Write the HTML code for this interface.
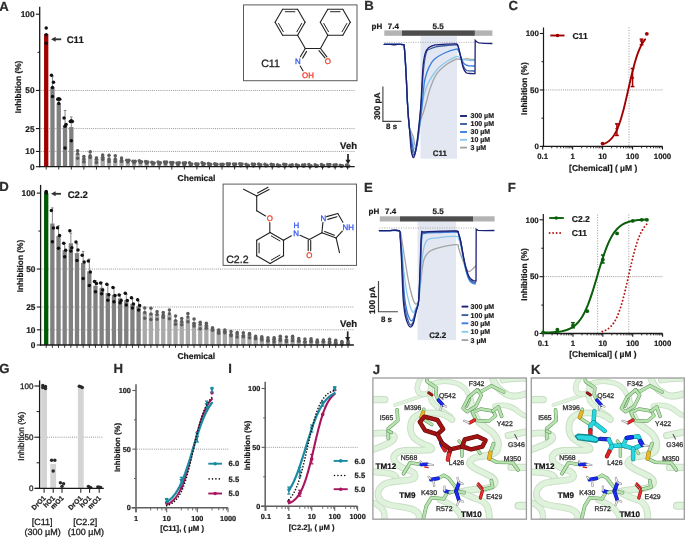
<!DOCTYPE html>
<html><head><meta charset="utf-8"><style>
html,body{margin:0;padding:0;background:#fff;}
body{width:685px;height:537px;overflow:hidden;}
svg{display:block;font-family:"Liberation Sans", sans-serif;will-change:transform;text-rendering:geometricPrecision;}
</style></head><body>
<svg width="685" height="537" viewBox="0 0 685 537">
<rect width="685" height="537" fill="#fff"/>
<defs><clipPath id="cj"><rect x="373.4" y="378.5" width="152.6" height="140.2"/></clipPath><clipPath id="ck"><rect x="531.8" y="378.5" width="152.0" height="140.2"/></clipPath></defs>
<text x="372.7" y="373.6" font-size="13.2" font-weight="bold" text-anchor="start" fill="#2b2b2b" stroke="#2b2b2b" stroke-width="0.2">J</text>
<text x="531.1" y="373.6" font-size="13.2" font-weight="bold" text-anchor="start" fill="#2b2b2b" stroke="#2b2b2b" stroke-width="0.2">K</text>
<g clip-path="url(#cj)">
<g id="env">
<path d="M372 399.6 L384.8 399.6" fill="none" stroke="#c8dfc4" stroke-width="7.4" stroke-linecap="round" stroke-linejoin="round"/>
<path d="M372 399.6 L384.8 399.6" fill="none" stroke="#dff2db" stroke-width="5.33" stroke-linecap="round" stroke-linejoin="round"/>
<path d="M395 405 L427 394.2" fill="none" stroke="#c8dfc4" stroke-width="3.8" stroke-linecap="round" stroke-linejoin="round"/>
<path d="M395 405 L427 394.2" fill="none" stroke="#dff2db" stroke-width="2.74" stroke-linecap="round" stroke-linejoin="round"/>
<path d="M422.5 376 C418.5 381 416.5 387 417.8 391 C419.5 394.5 424 394.8 428 393.5" fill="none" stroke="#c8dfc4" stroke-width="5.6" stroke-linecap="round" stroke-linejoin="round"/>
<path d="M422.5 376 C418.5 381 416.5 387 417.8 391 C419.5 394.5 424 394.8 428 393.5" fill="none" stroke="#dff2db" stroke-width="4.03" stroke-linecap="round" stroke-linejoin="round"/>
<path d="M430.5 384.5 C437 381.5 447 380.5 456 383 C462 385 466 389 468 393.5" fill="none" stroke="#c8dfc4" stroke-width="5.4" stroke-linecap="round" stroke-linejoin="round"/>
<path d="M430.5 384.5 C437 381.5 447 380.5 456 383 C462 385 466 389 468 393.5" fill="none" stroke="#dff2db" stroke-width="3.89" stroke-linecap="round" stroke-linejoin="round"/>
<path d="M431.5 385 C429.5 390 429.5 397 431.5 401 C434.5 406 442 411 450.5 416.5" fill="none" stroke="#c8dfc4" stroke-width="5.6" stroke-linecap="round" stroke-linejoin="round"/>
<path d="M431.5 385 C429.5 390 429.5 397 431.5 401 C434.5 406 442 411 450.5 416.5" fill="none" stroke="#dff2db" stroke-width="4.03" stroke-linecap="round" stroke-linejoin="round"/>
<path d="M492 376 C493.5 384 500 391 508 395 C514 397.5 520 396 528 393" fill="none" stroke="#c8dfc4" stroke-width="7.2" stroke-linecap="round" stroke-linejoin="round"/>
<path d="M492 376 C493.5 384 500 391 508 395 C514 397.5 520 396 528 393" fill="none" stroke="#dff2db" stroke-width="5.18" stroke-linecap="round" stroke-linejoin="round"/>
<path d="M503 380 C510 378.5 518 378 528 378.5" fill="none" stroke="#c8dfc4" stroke-width="6.8" stroke-linecap="round" stroke-linejoin="round"/>
<path d="M503 380 C510 378.5 518 378 528 378.5" fill="none" stroke="#dff2db" stroke-width="4.9" stroke-linecap="round" stroke-linejoin="round"/>
<path d="M494.9 406.3 C503 404 512 406 518.8 412 C522 415 525 416 528 416" fill="none" stroke="#c8dfc4" stroke-width="5.6" stroke-linecap="round" stroke-linejoin="round"/>
<path d="M494.9 406.3 C503 404 512 406 518.8 412 C522 415 525 416 528 416" fill="none" stroke="#dff2db" stroke-width="4.03" stroke-linecap="round" stroke-linejoin="round"/>
<path d="M470 398 C472 408 474 416 479 422.2 C483 426 488 429 492 432 C497 437 500 444 497 451 C494 455 484 456 477 457 C470 459 468 463 471 465.5 C474 468.5 480 471 486 474 C492 476.5 496 479 494.9 483.4 C493 487 488 488.5 481.6 489 C474 489.5 466 490 462 491.5" fill="none" stroke="#c8dfc4" stroke-width="7" stroke-linecap="round" stroke-linejoin="round"/>
<path d="M470 398 C472 408 474 416 479 422.2 C483 426 488 429 492 432 C497 437 500 444 497 451 C494 455 484 456 477 457 C470 459 468 463 471 465.5 C474 468.5 480 471 486 474 C492 476.5 496 479 494.9 483.4 C493 487 488 488.5 481.6 489 C474 489.5 466 490 462 491.5" fill="none" stroke="#dff2db" stroke-width="5.04" stroke-linecap="round" stroke-linejoin="round"/>
<path d="M462 492 C466 495 470 496.5 474 498 C481 500 486 503 487.5 507 C489 511 489.5 516 489.6 521" fill="none" stroke="#c8dfc4" stroke-width="7" stroke-linecap="round" stroke-linejoin="round"/>
<path d="M462 492 C466 495 470 496.5 474 498 C481 500 486 503 487.5 507 C489 511 489.5 516 489.6 521" fill="none" stroke="#dff2db" stroke-width="5.04" stroke-linecap="round" stroke-linejoin="round"/>
<path d="M508.2 435.5 L528 431.5" fill="none" stroke="#c8dfc4" stroke-width="7.2" stroke-linecap="round" stroke-linejoin="round"/>
<path d="M508.2 435.5 L528 431.5" fill="none" stroke="#dff2db" stroke-width="5.18" stroke-linecap="round" stroke-linejoin="round"/>
<path d="M510.9 467.4 L528 467.4" fill="none" stroke="#c8dfc4" stroke-width="7.2" stroke-linecap="round" stroke-linejoin="round"/>
<path d="M510.9 467.4 L528 467.4" fill="none" stroke="#dff2db" stroke-width="5.18" stroke-linecap="round" stroke-linejoin="round"/>
<path d="M518.5 505.8 L529 505.8" fill="none" stroke="#c8dfc4" stroke-width="8" stroke-linecap="round" stroke-linejoin="round"/>
<path d="M518.5 505.8 L529 505.8" fill="none" stroke="#dff2db" stroke-width="5.76" stroke-linecap="round" stroke-linejoin="round"/>
<path d="M371 434 C381 432 391 433 394 436 C396 440 388 444 380 447 L371 450.5" fill="none" stroke="#c8dfc4" stroke-width="6.8" stroke-linecap="round" stroke-linejoin="round"/>
<path d="M371 434 C381 432 391 433 394 436 C396 440 388 444 380 447 L371 450.5" fill="none" stroke="#dff2db" stroke-width="4.9" stroke-linecap="round" stroke-linejoin="round"/>
<path d="M371 471.7 C380 472 390 473 394 475 C398 478 396 481 392 482" fill="none" stroke="#c8dfc4" stroke-width="6.8" stroke-linecap="round" stroke-linejoin="round"/>
<path d="M371 471.7 C380 472 390 473 394 475 C398 478 396 481 392 482" fill="none" stroke="#dff2db" stroke-width="4.9" stroke-linecap="round" stroke-linejoin="round"/>
<path d="M371 502 C376 503 380 506 383 510 C385 514 385 517 384 521" fill="none" stroke="#c8dfc4" stroke-width="6.4" stroke-linecap="round" stroke-linejoin="round"/>
<path d="M371 502 C376 503 380 506 383 510 C385 514 385 517 384 521" fill="none" stroke="#dff2db" stroke-width="4.61" stroke-linecap="round" stroke-linejoin="round"/>
<path d="M452 419.5 C448 416.5 444 414 438.8 413.4 C432 412.8 426 412.8 422.9 413.4 C418 414 414 416.5 411.8 420.8 C410 425 410 430 412 435 C414.5 440 420 443 428.5 446 C432 447.5 433 449.5 430 450 L405 450.5 C397 451 392.5 455 394 460 C396 466 405 469 411 471 C416 473.5 417 478 411 479.5 C404 481 396 481 389 482.5 C382 484 378 489 378 494 C378 500 382 503 390 505 C398 507 408 507 414 510 C420 513 420 517 418 521" fill="none" stroke="#c8dfc4" stroke-width="6.8" stroke-linecap="round" stroke-linejoin="round"/>
<path d="M452 419.5 C448 416.5 444 414 438.8 413.4 C432 412.8 426 412.8 422.9 413.4 C418 414 414 416.5 411.8 420.8 C410 425 410 430 412 435 C414.5 440 420 443 428.5 446 C432 447.5 433 449.5 430 450 L405 450.5 C397 451 392.5 455 394 460 C396 466 405 469 411 471 C416 473.5 417 478 411 479.5 C404 481 396 481 389 482.5 C382 484 378 489 378 494 C378 500 382 503 390 505 C398 507 408 507 414 510 C420 513 420 517 418 521" fill="none" stroke="#dff2db" stroke-width="4.9" stroke-linecap="round" stroke-linejoin="round"/>
<path d="M440 500 C446 502 452 505 456 509 C460 513 462 517 462 521" fill="none" stroke="#c8dfc4" stroke-width="6.4" stroke-linecap="round" stroke-linejoin="round"/>
<path d="M440 500 C446 502 452 505 456 509 C460 513 462 517 462 521" fill="none" stroke="#dff2db" stroke-width="4.61" stroke-linecap="round" stroke-linejoin="round"/>
<path d="M397.1 409.8 L397.8 420.5 L388.3 428.6 L388.3 438.6" fill="none" stroke="#5f905a" stroke-width="3.6" stroke-linecap="round" stroke-linejoin="round"/>
<path d="M397.1 409.8 L397.8 420.5 L388.3 428.6 L388.3 438.6" fill="none" stroke="#b6e3ae" stroke-width="2.6" stroke-linecap="round" stroke-linejoin="round"/>
<path d="M388.3 431 L391.5 432.5" fill="none" stroke="#5f905a" stroke-width="3.2" stroke-linecap="round" stroke-linejoin="round"/>
<path d="M388.3 431 L391.5 432.5" fill="none" stroke="#b6e3ae" stroke-width="2.2" stroke-linecap="round" stroke-linejoin="round"/>
<line x1="428.8" y1="392.8" x2="432" y2="394.9" stroke="#601010" stroke-width="3" stroke-linecap="round"/>
<line x1="428.8" y1="392.8" x2="432" y2="394.9" stroke="#a21818" stroke-width="2" stroke-linecap="round"/>
<path d="M426.7 377.5 L427.1 381.4 L436.4 387.7 L435.8 394.8 L438.5 400.1" fill="none" stroke="#5f905a" stroke-width="3.6" stroke-linecap="round" stroke-linejoin="round"/>
<path d="M426.7 377.5 L427.1 381.4 L436.4 387.7 L435.8 394.8 L438.5 400.1" fill="none" stroke="#b6e3ae" stroke-width="2.6" stroke-linecap="round" stroke-linejoin="round"/>
<line x1="438.5" y1="400.1" x2="442.8" y2="405" stroke="#0a1290" stroke-width="3.6" stroke-linecap="round"/>
<line x1="438.5" y1="400.1" x2="442.8" y2="405" stroke="#1a2af0" stroke-width="2.6" stroke-linecap="round"/>
<line x1="443.5" y1="405.5" x2="446" y2="406.6" stroke="#888" stroke-width="2.2" stroke-linecap="round"/>
<line x1="443.5" y1="405.5" x2="446" y2="406.6" stroke="#f0f0f0" stroke-width="1.2" stroke-linecap="round"/>
<line x1="441.2" y1="406.2" x2="440.6" y2="409.6" stroke="#888" stroke-width="2.2" stroke-linecap="round"/>
<line x1="441.2" y1="406.2" x2="440.6" y2="409.6" stroke="#f0f0f0" stroke-width="1.2" stroke-linecap="round"/>
<path d="M423.8 409.2 L423.4 411.8" fill="none" stroke="#5f905a" stroke-width="3.4" stroke-linecap="round" stroke-linejoin="round"/>
<path d="M423.8 409.2 L423.4 411.8" fill="none" stroke="#b6e3ae" stroke-width="2.4" stroke-linecap="round" stroke-linejoin="round"/>
<path d="M421.6 418 L431.8 424.6" fill="none" stroke="#5f905a" stroke-width="3.4" stroke-linecap="round" stroke-linejoin="round"/>
<path d="M421.6 418 L431.8 424.6" fill="none" stroke="#b6e3ae" stroke-width="2.4" stroke-linecap="round" stroke-linejoin="round"/>
<path d="M423.2 412.3 L421.2 417.4" fill="none" stroke="#a07a10" stroke-width="4" stroke-linecap="round" stroke-linejoin="round"/>
<path d="M423.2 412.3 L421.2 417.4" fill="none" stroke="#e8b828" stroke-width="3" stroke-linecap="round" stroke-linejoin="round"/>
<path d="M503.7 392 L491.5 385.8 L480.6 392 L477.2 389.9" fill="none" stroke="#5f905a" stroke-width="3.6" stroke-linecap="round" stroke-linejoin="round"/>
<path d="M503.7 392 L491.5 385.8 L480.6 392 L477.2 389.9" fill="none" stroke="#b6e3ae" stroke-width="2.6" stroke-linecap="round" stroke-linejoin="round"/>
<path d="M477.2 389.9 L468.4 397.4 L463 408.3 L467 411.7 L475.9 406.2 L481.3 395.3 L477.2 389.9" fill="none" stroke="#5f905a" stroke-width="3.4" stroke-linecap="round" stroke-linejoin="round"/>
<path d="M477.2 389.9 L468.4 397.4 L463 408.3 L467 411.7 L475.9 406.2 L481.3 395.3 L477.2 389.9" fill="none" stroke="#b6e3ae" stroke-width="2.4" stroke-linecap="round" stroke-linejoin="round"/>
<path d="M470.2 399 L466.6 407" fill="none" stroke="#5f905a" stroke-width="2.2" stroke-linecap="round" stroke-linejoin="round"/>
<path d="M470.2 399 L466.6 407" fill="none" stroke="#b6e3ae" stroke-width="1.2" stroke-linecap="round" stroke-linejoin="round"/>
<path d="M472.5 412.3 L480.6 409 L492.8 411 L495.6 415.7 L488.8 421.2 L476.5 420.5 L472.5 412.3" fill="none" stroke="#5f905a" stroke-width="3.4" stroke-linecap="round" stroke-linejoin="round"/>
<path d="M472.5 412.3 L480.6 409 L492.8 411 L495.6 415.7 L488.8 421.2 L476.5 420.5 L472.5 412.3" fill="none" stroke="#b6e3ae" stroke-width="2.4" stroke-linecap="round" stroke-linejoin="round"/>
<path d="M492.8 411 L498.3 406.9 L501.7 416.4" fill="none" stroke="#5f905a" stroke-width="3.6" stroke-linecap="round" stroke-linejoin="round"/>
<path d="M492.8 411 L498.3 406.9 L501.7 416.4" fill="none" stroke="#b6e3ae" stroke-width="2.6" stroke-linecap="round" stroke-linejoin="round"/>
<line x1="474.6" y1="420" x2="469.8" y2="422.8" stroke="#901010" stroke-width="3.4" stroke-linecap="round"/>
<line x1="474.6" y1="420" x2="469.8" y2="422.8" stroke="#e82828" stroke-width="2.4" stroke-linecap="round"/>
<line x1="468.8" y1="422.6" x2="464" y2="420.8" stroke="#888" stroke-width="2.2" stroke-linecap="round"/>
<line x1="468.8" y1="422.6" x2="464" y2="420.8" stroke="#f0f0f0" stroke-width="1.2" stroke-linecap="round"/>
<line x1="514.6" y1="434.1" x2="517.3" y2="439.5" stroke="#222" stroke-width="0.9"/>
<path d="M493.6 443.5 L490.2 452.6" fill="none" stroke="#5f905a" stroke-width="3.6" stroke-linecap="round" stroke-linejoin="round"/>
<path d="M493.6 443.5 L490.2 452.6" fill="none" stroke="#b6e3ae" stroke-width="2.6" stroke-linecap="round" stroke-linejoin="round"/>
<path d="M489.6 458.6 L496.5 462.2 L512.6 462.6 L518 470" fill="none" stroke="#5f905a" stroke-width="3.6" stroke-linecap="round" stroke-linejoin="round"/>
<path d="M489.6 458.6 L496.5 462.2 L512.6 462.6 L518 470" fill="none" stroke="#b6e3ae" stroke-width="2.6" stroke-linecap="round" stroke-linejoin="round"/>
<path d="M490.4 452.8 L489.2 458.6" fill="none" stroke="#a07a10" stroke-width="4.4" stroke-linecap="round" stroke-linejoin="round"/>
<path d="M490.4 452.8 L489.2 458.6" fill="none" stroke="#e8b828" stroke-width="3.4" stroke-linecap="round" stroke-linejoin="round"/>
<path d="M491.3 480.5 L492.7 487 L483.5 489.6" fill="none" stroke="#5f905a" stroke-width="3.6" stroke-linecap="round" stroke-linejoin="round"/>
<path d="M491.3 480.5 L492.7 487 L483.5 489.6" fill="none" stroke="#b6e3ae" stroke-width="2.6" stroke-linecap="round" stroke-linejoin="round"/>
<line x1="482.4" y1="488.2" x2="478.4" y2="483.4" stroke="#901010" stroke-width="2.3" stroke-linecap="round"/>
<line x1="482.4" y1="488.2" x2="478.4" y2="483.4" stroke="#e02828" stroke-width="1.3" stroke-linecap="round"/>
<line x1="480.6" y1="489.4" x2="476.8" y2="484.8" stroke="#a01818" stroke-width="1.1" stroke-linecap="round"/>
<line x1="482.4" y1="490.8" x2="480.4" y2="498" stroke="#901010" stroke-width="3.2" stroke-linecap="round"/>
<line x1="482.4" y1="490.8" x2="480.4" y2="498" stroke="#e83030" stroke-width="2.2" stroke-linecap="round"/>
<path d="M403.5 473.7 L410.1 462.8 L421.3 464.5" fill="none" stroke="#5f905a" stroke-width="3.6" stroke-linecap="round" stroke-linejoin="round"/>
<path d="M403.5 473.7 L410.1 462.8 L421.3 464.5" fill="none" stroke="#b6e3ae" stroke-width="2.6" stroke-linecap="round" stroke-linejoin="round"/>
<line x1="421.3" y1="464.5" x2="427.4" y2="464.2" stroke="#0a1290" stroke-width="3.6" stroke-linecap="round"/>
<line x1="421.3" y1="464.5" x2="427.4" y2="464.2" stroke="#1a2af0" stroke-width="2.6" stroke-linecap="round"/>
<line x1="424.8" y1="467" x2="428.2" y2="467.6" stroke="#d42020" stroke-width="1.3" stroke-linecap="round"/>
<line x1="428.2" y1="464.3" x2="433" y2="465" stroke="#888" stroke-width="2.2" stroke-linecap="round"/>
<line x1="428.2" y1="464.3" x2="433" y2="465" stroke="#f0f0f0" stroke-width="1.2" stroke-linecap="round"/>
<line x1="421.3" y1="462.6" x2="420.6" y2="461.4" stroke="#888" stroke-width="2" stroke-linecap="round"/>
<line x1="421.3" y1="462.6" x2="420.6" y2="461.4" stroke="#f0f0f0" stroke-width="1" stroke-linecap="round"/>
<path d="M438.6 478.3 L443.7 475.2 L448.8 478.3 L455 486.5 L458 489.6" fill="none" stroke="#5f905a" stroke-width="3.6" stroke-linecap="round" stroke-linejoin="round"/>
<path d="M438.6 478.3 L443.7 475.2 L448.8 478.3 L455 486.5 L458 489.6" fill="none" stroke="#b6e3ae" stroke-width="2.6" stroke-linecap="round" stroke-linejoin="round"/>
<line x1="431" y1="479.6" x2="438" y2="478.4" stroke="#0a1290" stroke-width="3.8" stroke-linecap="round"/>
<line x1="431" y1="479.6" x2="438" y2="478.4" stroke="#1a2af0" stroke-width="2.8" stroke-linecap="round"/>
<line x1="430.2" y1="478.6" x2="428.6" y2="476.8" stroke="#888" stroke-width="2.2" stroke-linecap="round"/>
<line x1="430.2" y1="478.6" x2="428.6" y2="476.8" stroke="#f0f0f0" stroke-width="1.2" stroke-linecap="round"/>
<line x1="433.6" y1="481.4" x2="434.2" y2="486" stroke="#888" stroke-width="2.2" stroke-linecap="round"/>
<line x1="433.6" y1="481.4" x2="434.2" y2="486" stroke="#f0f0f0" stroke-width="1.2" stroke-linecap="round"/>
<path d="M422.8 521 L426.3 506 L431.4 497.8 L443.7 498.8 L446.7 493.7" fill="none" stroke="#5f905a" stroke-width="3.6" stroke-linecap="round" stroke-linejoin="round"/>
<path d="M422.8 521 L426.3 506 L431.4 497.8 L443.7 498.8 L446.7 493.7" fill="none" stroke="#b6e3ae" stroke-width="2.6" stroke-linecap="round" stroke-linejoin="round"/>
<line x1="445.2" y1="491" x2="450" y2="492.4" stroke="#0a1290" stroke-width="3.8" stroke-linecap="round"/>
<line x1="445.2" y1="491" x2="450" y2="492.4" stroke="#1a2af0" stroke-width="2.8" stroke-linecap="round"/>
<line x1="450" y1="492.4" x2="456" y2="491.1" stroke="#5f905a" stroke-width="3.6" stroke-linecap="round"/>
<line x1="450" y1="492.4" x2="456" y2="491.1" stroke="#b6e3ae" stroke-width="2.6" stroke-linecap="round"/>
<line x1="456" y1="491.1" x2="464.2" y2="492.7" stroke="#5f905a" stroke-width="3.6" stroke-linecap="round"/>
<line x1="456" y1="491.1" x2="464.2" y2="492.7" stroke="#b6e3ae" stroke-width="2.6" stroke-linecap="round"/>
<line x1="456" y1="491.1" x2="459" y2="483" stroke="#0a1290" stroke-width="3.8" stroke-linecap="round"/>
<line x1="456" y1="491.1" x2="459" y2="483" stroke="#1a2af0" stroke-width="2.8" stroke-linecap="round"/>
<line x1="456" y1="491.1" x2="459" y2="500.5" stroke="#0a1290" stroke-width="3.8" stroke-linecap="round"/>
<line x1="456" y1="491.1" x2="459" y2="500.5" stroke="#1a2af0" stroke-width="2.8" stroke-linecap="round"/>
<line x1="459.5" y1="482.5" x2="462.6" y2="483.8" stroke="#888" stroke-width="2.2" stroke-linecap="round"/>
<line x1="459.5" y1="482.5" x2="462.6" y2="483.8" stroke="#f0f0f0" stroke-width="1.2" stroke-linecap="round"/>
<line x1="458.6" y1="481.6" x2="457.5" y2="478" stroke="#888" stroke-width="2.2" stroke-linecap="round"/>
<line x1="458.6" y1="481.6" x2="457.5" y2="478" stroke="#f0f0f0" stroke-width="1.2" stroke-linecap="round"/>
<line x1="459.8" y1="500.8" x2="462.8" y2="501.5" stroke="#888" stroke-width="2.2" stroke-linecap="round"/>
<line x1="459.8" y1="500.8" x2="462.8" y2="501.5" stroke="#f0f0f0" stroke-width="1.2" stroke-linecap="round"/>
<line x1="458.6" y1="501.4" x2="457.2" y2="505.2" stroke="#888" stroke-width="2.2" stroke-linecap="round"/>
<line x1="458.6" y1="501.4" x2="457.2" y2="505.2" stroke="#f0f0f0" stroke-width="1.2" stroke-linecap="round"/>
<line x1="444.6" y1="490.4" x2="444.5" y2="486.5" stroke="#888" stroke-width="2.2" stroke-linecap="round"/>
<line x1="444.6" y1="490.4" x2="444.5" y2="486.5" stroke="#f0f0f0" stroke-width="1.2" stroke-linecap="round"/>
<path d="M462 444.5 L462 456.2" fill="none" stroke="#5f905a" stroke-width="3.4" stroke-linecap="round" stroke-linejoin="round"/>
<path d="M462 444.5 L462 456.2" fill="none" stroke="#b6e3ae" stroke-width="2.4" stroke-linecap="round" stroke-linejoin="round"/>
<path d="M459 441 L462 444.5 L466.5 447" fill="none" stroke="#5f905a" stroke-width="3.4" stroke-linecap="round" stroke-linejoin="round"/>
<path d="M459 441 L462 444.5 L466.5 447" fill="none" stroke="#b6e3ae" stroke-width="2.4" stroke-linecap="round" stroke-linejoin="round"/>
<path d="M477.4 449.2 L480.1 453.4" fill="none" stroke="#5f905a" stroke-width="3.4" stroke-linecap="round" stroke-linejoin="round"/>
<path d="M477.4 449.2 L480.1 453.4" fill="none" stroke="#b6e3ae" stroke-width="2.4" stroke-linecap="round" stroke-linejoin="round"/>
<text x="438.9" y="398.3" font-size="6.9" text-anchor="start" fill="#333" stroke="#333" stroke-width="0.3">Q542</text>
<text x="468.7" y="386.2" font-size="6.9" text-anchor="start" fill="#333" stroke="#333" stroke-width="0.3">F342</text>
<text x="404.2" y="409.9" font-size="6.9" text-anchor="start" fill="#333" stroke="#333" stroke-width="0.3">M396</text>
<text x="379.8" y="420.4" font-size="6.9" text-anchor="start" fill="#333" stroke="#333" stroke-width="0.3">I565</text>
<text x="496.7" y="426" font-size="6.9" text-anchor="start" fill="#333" stroke="#333" stroke-width="0.3">Y422</text>
<text x="507.9" y="446.9" font-size="6.9" text-anchor="start" fill="#333" stroke="#333" stroke-width="0.3">G346</text>
<text x="503.8" y="460.6" font-size="6.9" text-anchor="start" fill="#333" stroke="#333" stroke-width="0.3">M350</text>
<text x="400.8" y="460.3" font-size="6.9" text-anchor="start" fill="#333" stroke="#333" stroke-width="0.3">N568</text>
<text x="448.8" y="465.3" font-size="6.9" text-anchor="start" fill="#333" stroke="#333" stroke-width="0.3">L426</text>
<text x="420.9" y="494.5" font-size="6.9" text-anchor="start" fill="#333" stroke="#333" stroke-width="0.3">K430</text>
<text x="486.2" y="498.8" font-size="6.9" text-anchor="start" fill="#333" stroke="#333" stroke-width="0.3">E429</text>
<text x="436" y="511" font-size="6.9" text-anchor="start" fill="#333" stroke="#333" stroke-width="0.3">R572</text>
<text x="375.5" y="468.7" font-size="8.1" font-weight="bold" text-anchor="start" fill="#111" stroke="#111" stroke-width="0.2">TM12</text>
<text x="399.3" y="498" font-size="8.1" font-weight="bold" text-anchor="start" fill="#111" stroke="#111" stroke-width="0.2">TM9</text>
<text x="461" y="517.1" font-size="8.1" font-weight="bold" text-anchor="start" fill="#111" stroke="#111" stroke-width="0.2">TM10</text>
</g>
<path d="M419.8 421.9 L424.3 416.7 L437.4 420 L443.2 429.1 L437.4 434.3 L425 430.4 L419.8 421.9" fill="none" stroke="#5c0606" stroke-width="4.4" stroke-linecap="round" stroke-linejoin="round"/>
<path d="M419.8 421.9 L424.3 416.7 L437.4 420 L443.2 429.1 L437.4 434.3 L425 430.4 L419.8 421.9" fill="none" stroke="#a01414" stroke-width="3.4" stroke-linecap="round" stroke-linejoin="round"/>
<path d="M437.4 434.3 L442 443" fill="none" stroke="#5c0606" stroke-width="4.4" stroke-linecap="round" stroke-linejoin="round"/>
<path d="M437.4 434.3 L442 443" fill="none" stroke="#a01414" stroke-width="3.4" stroke-linecap="round" stroke-linejoin="round"/>
<line x1="441" y1="443" x2="442.5" y2="446.5" stroke="#101880" stroke-width="4" stroke-linecap="round"/>
<line x1="441" y1="443" x2="442.5" y2="446.5" stroke="#2430e0" stroke-width="3" stroke-linecap="round"/>
<line x1="443" y1="447" x2="445" y2="450.5" stroke="#801010" stroke-width="4" stroke-linecap="round"/>
<line x1="443" y1="447" x2="445" y2="450.5" stroke="#e02020" stroke-width="3" stroke-linecap="round"/>
<path d="M442 443 L450.4 449.3 L462.1 446.7" fill="none" stroke="#5c0606" stroke-width="4.4" stroke-linecap="round" stroke-linejoin="round"/>
<path d="M442 443 L450.4 449.3 L462.1 446.7" fill="none" stroke="#a01414" stroke-width="3.4" stroke-linecap="round" stroke-linejoin="round"/>
<path d="M450.4 449.3 L449 454" fill="none" stroke="#5c0606" stroke-width="4.4" stroke-linecap="round" stroke-linejoin="round"/>
<path d="M450.4 449.3 L449 454" fill="none" stroke="#a01414" stroke-width="3.4" stroke-linecap="round" stroke-linejoin="round"/>
<line x1="449" y1="454" x2="447.8" y2="459.7" stroke="#901010" stroke-width="4.2" stroke-linecap="round"/>
<line x1="449" y1="454" x2="447.8" y2="459.7" stroke="#e83030" stroke-width="3.2" stroke-linecap="round"/>
<path d="M462.1 446.7 L464.7 439.5 L477.1 436.3 L485.6 440.2 L482.3 446.7 L471.2 449.3 L462.1 446.7" fill="none" stroke="#5c0606" stroke-width="4.4" stroke-linecap="round" stroke-linejoin="round"/>
<path d="M462.1 446.7 L464.7 439.5 L477.1 436.3 L485.6 440.2 L482.3 446.7 L471.2 449.3 L462.1 446.7" fill="none" stroke="#a01414" stroke-width="3.4" stroke-linecap="round" stroke-linejoin="round"/>
</g>
<g clip-path="url(#ck)">
<use href="#env" x="158.4" y="0"/>
<path d="M594.3 411.2 L593.6 422.3" fill="none" stroke="#0c8c94" stroke-width="4.4" stroke-linecap="round" stroke-linejoin="round"/>
<path d="M594.3 411.2 L593.6 422.3" fill="none" stroke="#2ad6df" stroke-width="3.4" stroke-linecap="round" stroke-linejoin="round"/>
<path d="M593.6 422.3 L604.8 430.9" fill="none" stroke="#0c8c94" stroke-width="4.4" stroke-linecap="round" stroke-linejoin="round"/>
<path d="M593.6 422.3 L604.8 430.9" fill="none" stroke="#2ad6df" stroke-width="3.4" stroke-linecap="round" stroke-linejoin="round"/>
<path d="M593.6 422.3 L590.4 425.5 L590.4 430" fill="none" stroke="#0c8c94" stroke-width="4.4" stroke-linecap="round" stroke-linejoin="round"/>
<path d="M593.6 422.3 L590.4 425.5 L590.4 430" fill="none" stroke="#2ad6df" stroke-width="3.4" stroke-linecap="round" stroke-linejoin="round"/>
<line x1="590.4" y1="430" x2="590.4" y2="436" stroke="#801010" stroke-width="4.2" stroke-linecap="round"/>
<line x1="590.4" y1="430" x2="590.4" y2="436" stroke="#e02020" stroke-width="3.2" stroke-linecap="round"/>
<path d="M575.3 436.1 L577.9 434.3 L591 435.2 L600.2 438.8 L596.3 442.2 L577.9 439.6 Z" fill="#2ad6df" stroke="#0c8c94" stroke-width="1.4" stroke-linejoin="round"/>
<line x1="600.2" y1="438.8" x2="608.8" y2="439.4" stroke="#101880" stroke-width="4.2" stroke-linecap="round"/>
<line x1="600.2" y1="438.8" x2="608.8" y2="439.4" stroke="#2430e0" stroke-width="3.2" stroke-linecap="round"/>
<line x1="609.5" y1="438.5" x2="611.4" y2="433.5" stroke="#e8e8e8" stroke-width="1" stroke-linecap="round"/>
<path d="M608.8 439.4 L612 446 L623.2 445.3" fill="none" stroke="#0c8c94" stroke-width="4.4" stroke-linecap="round" stroke-linejoin="round"/>
<path d="M608.8 439.4 L612 446 L623.2 445.3" fill="none" stroke="#2ad6df" stroke-width="3.4" stroke-linecap="round" stroke-linejoin="round"/>
<path d="M612 446 L609.6 450.8" fill="none" stroke="#0c8c94" stroke-width="4.4" stroke-linecap="round" stroke-linejoin="round"/>
<path d="M612 446 L609.6 450.8" fill="none" stroke="#2ad6df" stroke-width="3.4" stroke-linecap="round" stroke-linejoin="round"/>
<line x1="609.4" y1="451.4" x2="606.9" y2="456.4" stroke="#801010" stroke-width="4.2" stroke-linecap="round"/>
<line x1="609.4" y1="451.4" x2="606.9" y2="456.4" stroke="#e02020" stroke-width="3.2" stroke-linecap="round"/>
<path d="M623.2 445.3 L626.5 438.1 L638.3 436.1 L642.3 444.7 L633.1 448.6 L623.2 445.3" fill="none" stroke="#0c8c94" stroke-width="4.4" stroke-linecap="round" stroke-linejoin="round"/>
<path d="M623.2 445.3 L626.5 438.1 L638.3 436.1 L642.3 444.7 L633.1 448.6 L623.2 445.3" fill="none" stroke="#2ad6df" stroke-width="3.4" stroke-linecap="round" stroke-linejoin="round"/>
<line x1="626.7" y1="437.9" x2="632" y2="437.2" stroke="#0a1290" stroke-width="4.3" stroke-linecap="round"/>
<line x1="626.7" y1="437.9" x2="632" y2="437.2" stroke="#1a2af0" stroke-width="3.3" stroke-linecap="round"/>
<line x1="640" y1="441" x2="642.6" y2="445" stroke="#0a1290" stroke-width="4.3" stroke-linecap="round"/>
<line x1="640" y1="441" x2="642.6" y2="445" stroke="#1a2af0" stroke-width="3.3" stroke-linecap="round"/>
<line x1="643.5" y1="445.3" x2="648.8" y2="446" stroke="#888" stroke-width="2.2" stroke-linecap="round"/>
<line x1="643.5" y1="445.3" x2="648.8" y2="446" stroke="#f0f0f0" stroke-width="1.2" stroke-linecap="round"/>
<path d="M633.1 448.6 L633.1 459.1" fill="none" stroke="#0c8c94" stroke-width="4.4" stroke-linecap="round" stroke-linejoin="round"/>
<path d="M633.1 448.6 L633.1 459.1" fill="none" stroke="#2ad6df" stroke-width="3.4" stroke-linecap="round" stroke-linejoin="round"/>
</g>
<rect x="372.9" y="378.0" width="153.5" height="141.2" fill="none" stroke="#9c9c9c" stroke-width="1.3"/>
<rect x="531.3" y="378.0" width="153.0" height="141.2" fill="none" stroke="#9c9c9c" stroke-width="1.3"/>
<text x="-0.8" y="10.6" font-size="13.2" font-weight="bold" text-anchor="start" fill="#2b2b2b" stroke="#2b2b2b" stroke-width="0.2">A</text>
<line x1="40.7" y1="90.45" x2="354.7" y2="90.45" stroke="#8c8c8c" stroke-width="0.9" stroke-dasharray="1 1.1"/>
<line x1="40.7" y1="128.57" x2="354.7" y2="128.57" stroke="#8c8c8c" stroke-width="0.9" stroke-dasharray="1 1.1"/>
<line x1="40.7" y1="151.45" x2="354.7" y2="151.45" stroke="#8c8c8c" stroke-width="0.9" stroke-dasharray="1 1.1"/>
<rect x="44.05" y="34.03" width="4.3" height="132.67" fill="#a00000"/>
<rect x="50.33" y="87.4" width="4.3" height="79.3" fill="#808080"/>
<rect x="56.61" y="103.41" width="4.3" height="63.29" fill="#808080"/>
<rect x="62.89" y="125.52" width="4.3" height="41.17" fill="#808080"/>
<rect x="69.17" y="127.05" width="4.3" height="39.65" fill="#808080"/>
<rect x="75.45" y="153.74" width="4.3" height="12.96" fill="#a9a9a9"/>
<rect x="81.73" y="158.77" width="4.3" height="7.93" fill="#a9a9a9"/>
<rect x="88.01" y="155.72" width="4.3" height="10.98" fill="#a9a9a9"/>
<rect x="94.29" y="159.23" width="4.3" height="7.47" fill="#a9a9a9"/>
<rect x="100.57" y="157.24" width="4.3" height="9.46" fill="#a9a9a9"/>
<rect x="106.85" y="159.07" width="4.3" height="7.62" fill="#a9a9a9"/>
<rect x="113.13" y="159.07" width="4.3" height="7.62" fill="#a9a9a9"/>
<rect x="119.41" y="160.29" width="4.3" height="6.41" fill="#a9a9a9"/>
<rect x="125.69" y="161.36" width="4.3" height="5.34" fill="#a9a9a9"/>
<rect x="131.97" y="162.12" width="4.3" height="4.57" fill="#a9a9a9"/>
<rect x="138.25" y="161.82" width="4.3" height="4.88" fill="#a9a9a9"/>
<rect x="144.53" y="162.73" width="4.3" height="3.96" fill="#a9a9a9"/>
<rect x="150.81" y="163.04" width="4.3" height="3.66" fill="#a9a9a9"/>
<rect x="157.09" y="163.34" width="4.3" height="3.35" fill="#a9a9a9"/>
<rect x="163.37" y="163.19" width="4.3" height="3.51" fill="#a9a9a9"/>
<rect x="169.65" y="163.65" width="4.3" height="3.05" fill="#a9a9a9"/>
<rect x="175.93" y="163.8" width="4.3" height="2.9" fill="#a9a9a9"/>
<rect x="182.21" y="163.95" width="4.3" height="2.75" fill="#a9a9a9"/>
<rect x="188.49" y="164.11" width="4.3" height="2.59" fill="#a9a9a9"/>
<rect x="194.77" y="164.26" width="4.3" height="2.44" fill="#a9a9a9"/>
<rect x="201.05" y="164.26" width="4.3" height="2.44" fill="#a9a9a9"/>
<rect x="207.33" y="164.56" width="4.3" height="2.13" fill="#a9a9a9"/>
<rect x="213.61" y="164.72" width="4.3" height="1.98" fill="#a9a9a9"/>
<rect x="219.89" y="164.87" width="4.3" height="1.83" fill="#a9a9a9"/>
<rect x="226.17" y="164.87" width="4.3" height="1.83" fill="#a9a9a9"/>
<rect x="232.45" y="165.17" width="4.3" height="1.52" fill="#a9a9a9"/>
<rect x="238.73" y="165.17" width="4.3" height="1.52" fill="#a9a9a9"/>
<rect x="245.01" y="165.33" width="4.3" height="1.37" fill="#a9a9a9"/>
<rect x="251.29" y="165.33" width="4.3" height="1.37" fill="#a9a9a9"/>
<rect x="257.57" y="165.33" width="4.3" height="1.37" fill="#a9a9a9"/>
<rect x="263.85" y="165.48" width="4.3" height="1.22" fill="#a9a9a9"/>
<rect x="270.13" y="165.48" width="4.3" height="1.22" fill="#a9a9a9"/>
<rect x="276.41" y="165.48" width="4.3" height="1.22" fill="#a9a9a9"/>
<rect x="282.69" y="165.63" width="4.3" height="1.07" fill="#a9a9a9"/>
<rect x="288.97" y="165.63" width="4.3" height="1.07" fill="#a9a9a9"/>
<rect x="295.25" y="165.63" width="4.3" height="1.07" fill="#a9a9a9"/>
<rect x="301.53" y="165.63" width="4.3" height="1.07" fill="#a9a9a9"/>
<rect x="307.81" y="165.78" width="4.3" height="0.91" fill="#a9a9a9"/>
<rect x="314.09" y="165.78" width="4.3" height="0.91" fill="#a9a9a9"/>
<rect x="320.37" y="165.78" width="4.3" height="0.91" fill="#a9a9a9"/>
<rect x="326.65" y="165.78" width="4.3" height="0.91" fill="#a9a9a9"/>
<rect x="332.93" y="165.94" width="4.3" height="0.76" fill="#a9a9a9"/>
<rect x="339.21" y="165.94" width="4.3" height="0.76" fill="#a9a9a9"/>
<rect x="345.49" y="166.09" width="4.3" height="0.61" fill="#a9a9a9"/>
<line x1="52.48" y1="87.4" x2="52.48" y2="76.72" stroke="#6a6a6a" stroke-width="0.8"/>
<line x1="51.18" y1="76.72" x2="53.78" y2="76.72" stroke="#6a6a6a" stroke-width="0.8"/>
<line x1="58.76" y1="103.41" x2="58.76" y2="101.05" stroke="#6a6a6a" stroke-width="0.8"/>
<line x1="57.46" y1="101.05" x2="60.06" y2="101.05" stroke="#6a6a6a" stroke-width="0.8"/>
<line x1="65.04" y1="125.52" x2="65.04" y2="110.5" stroke="#6a6a6a" stroke-width="0.8"/>
<line x1="63.74" y1="110.5" x2="66.34" y2="110.5" stroke="#6a6a6a" stroke-width="0.8"/>
<line x1="71.32" y1="127.05" x2="71.32" y2="116.98" stroke="#6a6a6a" stroke-width="0.8"/>
<line x1="70.02" y1="116.98" x2="72.62" y2="116.98" stroke="#6a6a6a" stroke-width="0.8"/>
<line x1="77.6" y1="153.74" x2="77.6" y2="150.02" stroke="#8a8a8a" stroke-width="0.8"/>
<line x1="76.3" y1="150.02" x2="78.9" y2="150.02" stroke="#8a8a8a" stroke-width="0.8"/>
<line x1="83.88" y1="158.77" x2="83.88" y2="156.23" stroke="#8a8a8a" stroke-width="0.8"/>
<line x1="82.58" y1="156.23" x2="85.18" y2="156.23" stroke="#8a8a8a" stroke-width="0.8"/>
<line x1="90.16" y1="155.72" x2="90.16" y2="152.74" stroke="#8a8a8a" stroke-width="0.8"/>
<line x1="88.86" y1="152.74" x2="91.46" y2="152.74" stroke="#8a8a8a" stroke-width="0.8"/>
<line x1="96.44" y1="159.23" x2="96.44" y2="156.99" stroke="#8a8a8a" stroke-width="0.8"/>
<line x1="95.14" y1="156.99" x2="97.74" y2="156.99" stroke="#8a8a8a" stroke-width="0.8"/>
<line x1="102.72" y1="157.24" x2="102.72" y2="155.01" stroke="#8a8a8a" stroke-width="0.8"/>
<line x1="101.42" y1="155.01" x2="104.02" y2="155.01" stroke="#8a8a8a" stroke-width="0.8"/>
<line x1="109" y1="159.07" x2="109" y2="155.98" stroke="#8a8a8a" stroke-width="0.8"/>
<line x1="107.7" y1="155.98" x2="110.3" y2="155.98" stroke="#8a8a8a" stroke-width="0.8"/>
<line x1="115.28" y1="159.07" x2="115.28" y2="156.18" stroke="#8a8a8a" stroke-width="0.8"/>
<line x1="113.98" y1="156.18" x2="116.58" y2="156.18" stroke="#8a8a8a" stroke-width="0.8"/>
<line x1="121.56" y1="160.29" x2="121.56" y2="158.45" stroke="#8a8a8a" stroke-width="0.8"/>
<line x1="120.26" y1="158.45" x2="122.86" y2="158.45" stroke="#8a8a8a" stroke-width="0.8"/>
<circle cx="46.2" cy="27.92" r="1.75" fill="#111"/>
<circle cx="46.2" cy="34.79" r="1.75" fill="#111"/>
<circle cx="46.2" cy="43.17" r="1.75" fill="#111"/>
<circle cx="51.48" cy="75.2" r="1.75" fill="#111"/>
<circle cx="53.48" cy="82.37" r="1.75" fill="#111"/>
<circle cx="52.48" cy="87.4" r="1.75" fill="#111"/>
<circle cx="52.48" cy="96.55" r="1.75" fill="#111"/>
<circle cx="57.76" cy="99.29" r="1.75" fill="#111"/>
<circle cx="59.76" cy="99.29" r="1.75" fill="#111"/>
<circle cx="58.76" cy="103.41" r="1.75" fill="#111"/>
<circle cx="58.76" cy="98.68" r="1.75" fill="#111"/>
<circle cx="64.04" cy="117.9" r="1.75" fill="#111"/>
<circle cx="66.04" cy="124.61" r="1.75" fill="#111"/>
<circle cx="65.04" cy="126.29" r="1.75" fill="#111"/>
<circle cx="65.04" cy="147.94" r="1.75" fill="#111"/>
<circle cx="70.32" cy="121.56" r="1.75" fill="#111"/>
<circle cx="72.32" cy="121.56" r="1.75" fill="#111"/>
<circle cx="71.32" cy="140.77" r="1.75" fill="#111"/>
<circle cx="71.32" cy="120.64" r="1.75" fill="#111"/>
<circle cx="77.6" cy="150.71" r="1.75" fill="#5c5c5c"/>
<circle cx="77.6" cy="153.74" r="1.75" fill="#5c5c5c"/>
<circle cx="77.6" cy="158.15" r="1.75" fill="#5c5c5c"/>
<circle cx="83.88" cy="156.55" r="1.75" fill="#5c5c5c"/>
<circle cx="83.88" cy="158.77" r="1.75" fill="#5c5c5c"/>
<circle cx="83.88" cy="161.64" r="1.75" fill="#5c5c5c"/>
<circle cx="90.16" cy="151.67" r="1.75" fill="#5c5c5c"/>
<circle cx="90.16" cy="155.72" r="1.75" fill="#5c5c5c"/>
<circle cx="90.16" cy="157.62" r="1.75" fill="#5c5c5c"/>
<circle cx="96.44" cy="158.07" r="1.75" fill="#5c5c5c"/>
<circle cx="96.44" cy="159.23" r="1.75" fill="#5c5c5c"/>
<circle cx="96.44" cy="162.54" r="1.75" fill="#5c5c5c"/>
<circle cx="102.72" cy="154.97" r="1.75" fill="#5c5c5c"/>
<circle cx="102.72" cy="157.24" r="1.75" fill="#5c5c5c"/>
<circle cx="102.72" cy="159.44" r="1.75" fill="#5c5c5c"/>
<circle cx="109" cy="155.27" r="1.75" fill="#5c5c5c"/>
<circle cx="109" cy="159.07" r="1.75" fill="#5c5c5c"/>
<circle cx="109" cy="161.47" r="1.75" fill="#5c5c5c"/>
<circle cx="115.28" cy="155.7" r="1.75" fill="#5c5c5c"/>
<circle cx="115.28" cy="159.07" r="1.75" fill="#5c5c5c"/>
<circle cx="115.28" cy="161.49" r="1.75" fill="#5c5c5c"/>
<circle cx="121.56" cy="157.9" r="1.75" fill="#5c5c5c"/>
<circle cx="121.56" cy="160.29" r="1.75" fill="#5c5c5c"/>
<circle cx="121.56" cy="161.59" r="1.75" fill="#5c5c5c"/>
<circle cx="126.74" cy="160.28" r="1.75" fill="#5c5c5c"/>
<circle cx="128.94" cy="160.3" r="1.75" fill="#5c5c5c"/>
<circle cx="127.84" cy="161.97" r="1.75" fill="#5c5c5c"/>
<circle cx="133.02" cy="161.18" r="1.75" fill="#5c5c5c"/>
<circle cx="135.22" cy="161.22" r="1.75" fill="#5c5c5c"/>
<circle cx="134.12" cy="162.73" r="1.75" fill="#5c5c5c"/>
<circle cx="139.3" cy="160.7" r="1.75" fill="#5c5c5c"/>
<circle cx="141.5" cy="161.74" r="1.75" fill="#5c5c5c"/>
<circle cx="140.4" cy="162.43" r="1.75" fill="#5c5c5c"/>
<circle cx="145.58" cy="161.5" r="1.75" fill="#5c5c5c"/>
<circle cx="147.78" cy="162.01" r="1.75" fill="#5c5c5c"/>
<circle cx="146.68" cy="163.34" r="1.75" fill="#5c5c5c"/>
<circle cx="151.86" cy="162.37" r="1.75" fill="#5c5c5c"/>
<circle cx="154.06" cy="163" r="1.75" fill="#5c5c5c"/>
<circle cx="152.96" cy="163.65" r="1.75" fill="#5c5c5c"/>
<circle cx="158.14" cy="161.98" r="1.75" fill="#5c5c5c"/>
<circle cx="160.34" cy="162.77" r="1.75" fill="#5c5c5c"/>
<circle cx="159.24" cy="163.95" r="1.75" fill="#5c5c5c"/>
<circle cx="164.42" cy="162.01" r="1.75" fill="#5c5c5c"/>
<circle cx="166.62" cy="162.12" r="1.75" fill="#5c5c5c"/>
<circle cx="165.52" cy="163.8" r="1.75" fill="#5c5c5c"/>
<circle cx="170.7" cy="162.47" r="1.75" fill="#5c5c5c"/>
<circle cx="172.9" cy="162.53" r="1.75" fill="#5c5c5c"/>
<circle cx="171.8" cy="164.26" r="1.75" fill="#5c5c5c"/>
<circle cx="176.98" cy="163.02" r="1.75" fill="#5c5c5c"/>
<circle cx="179.18" cy="162.83" r="1.75" fill="#5c5c5c"/>
<circle cx="178.08" cy="164.41" r="1.75" fill="#5c5c5c"/>
<circle cx="183.26" cy="163.11" r="1.75" fill="#5c5c5c"/>
<circle cx="185.46" cy="162.81" r="1.75" fill="#5c5c5c"/>
<circle cx="184.36" cy="164.56" r="1.75" fill="#5c5c5c"/>
<circle cx="189.54" cy="162.73" r="1.75" fill="#5c5c5c"/>
<circle cx="191.74" cy="163.99" r="1.75" fill="#5c5c5c"/>
<circle cx="190.64" cy="164.72" r="1.75" fill="#5c5c5c"/>
<circle cx="195.82" cy="163.79" r="1.75" fill="#5c5c5c"/>
<circle cx="198.02" cy="164" r="1.75" fill="#5c5c5c"/>
<circle cx="196.92" cy="164.87" r="1.75" fill="#5c5c5c"/>
<circle cx="202.1" cy="162.78" r="1.75" fill="#5c5c5c"/>
<circle cx="204.3" cy="163.73" r="1.75" fill="#5c5c5c"/>
<circle cx="203.2" cy="164.87" r="1.75" fill="#5c5c5c"/>
<circle cx="208.38" cy="163.5" r="1.75" fill="#5c5c5c"/>
<circle cx="210.58" cy="164.2" r="1.75" fill="#5c5c5c"/>
<circle cx="209.48" cy="165.17" r="1.75" fill="#5c5c5c"/>
<circle cx="214.66" cy="163.79" r="1.75" fill="#5c5c5c"/>
<circle cx="216.86" cy="164.25" r="1.75" fill="#5c5c5c"/>
<circle cx="215.76" cy="165.33" r="1.75" fill="#5c5c5c"/>
<circle cx="220.94" cy="164.14" r="1.75" fill="#5c5c5c"/>
<circle cx="223.14" cy="164.16" r="1.75" fill="#5c5c5c"/>
<circle cx="222.04" cy="165.48" r="1.75" fill="#5c5c5c"/>
<circle cx="227.22" cy="163.85" r="1.75" fill="#5c5c5c"/>
<circle cx="229.42" cy="163.77" r="1.75" fill="#5c5c5c"/>
<circle cx="228.32" cy="165.48" r="1.75" fill="#5c5c5c"/>
<circle cx="233.5" cy="164.04" r="1.75" fill="#5c5c5c"/>
<circle cx="235.7" cy="164.04" r="1.75" fill="#5c5c5c"/>
<circle cx="234.6" cy="165.78" r="1.75" fill="#5c5c5c"/>
<circle cx="239.78" cy="163.83" r="1.75" fill="#5c5c5c"/>
<circle cx="241.98" cy="163.97" r="1.75" fill="#5c5c5c"/>
<circle cx="240.88" cy="165.78" r="1.75" fill="#5c5c5c"/>
<circle cx="246.06" cy="164.2" r="1.75" fill="#5c5c5c"/>
<circle cx="248.26" cy="165.13" r="1.75" fill="#5c5c5c"/>
<circle cx="247.16" cy="165.94" r="1.75" fill="#5c5c5c"/>
<circle cx="252.34" cy="163.97" r="1.75" fill="#5c5c5c"/>
<circle cx="254.54" cy="164.15" r="1.75" fill="#5c5c5c"/>
<circle cx="253.44" cy="165.94" r="1.75" fill="#5c5c5c"/>
<circle cx="258.62" cy="163.92" r="1.75" fill="#5c5c5c"/>
<circle cx="260.82" cy="164.63" r="1.75" fill="#5c5c5c"/>
<circle cx="259.72" cy="165.94" r="1.75" fill="#5c5c5c"/>
<circle cx="264.9" cy="164.3" r="1.75" fill="#5c5c5c"/>
<circle cx="267.1" cy="165.22" r="1.75" fill="#5c5c5c"/>
<circle cx="266" cy="166.09" r="1.75" fill="#5c5c5c"/>
<circle cx="271.18" cy="164.16" r="1.75" fill="#5c5c5c"/>
<circle cx="273.38" cy="164.78" r="1.75" fill="#5c5c5c"/>
<circle cx="272.28" cy="166.09" r="1.75" fill="#5c5c5c"/>
<circle cx="277.46" cy="164.83" r="1.75" fill="#5c5c5c"/>
<circle cx="279.66" cy="165.4" r="1.75" fill="#5c5c5c"/>
<circle cx="278.56" cy="166.09" r="1.75" fill="#5c5c5c"/>
<circle cx="283.74" cy="164.29" r="1.75" fill="#5c5c5c"/>
<circle cx="285.94" cy="164.42" r="1.75" fill="#5c5c5c"/>
<circle cx="284.84" cy="166.24" r="1.75" fill="#5c5c5c"/>
<circle cx="290.02" cy="165.22" r="1.75" fill="#5c5c5c"/>
<circle cx="292.22" cy="164.66" r="1.75" fill="#5c5c5c"/>
<circle cx="291.12" cy="166.24" r="1.75" fill="#5c5c5c"/>
<circle cx="296.3" cy="164.83" r="1.75" fill="#5c5c5c"/>
<circle cx="298.5" cy="165.45" r="1.75" fill="#5c5c5c"/>
<circle cx="297.4" cy="166.24" r="1.75" fill="#5c5c5c"/>
<circle cx="302.58" cy="164.97" r="1.75" fill="#5c5c5c"/>
<circle cx="304.78" cy="164.69" r="1.75" fill="#5c5c5c"/>
<circle cx="303.68" cy="166.24" r="1.75" fill="#5c5c5c"/>
<circle cx="308.86" cy="164.42" r="1.75" fill="#5c5c5c"/>
<circle cx="311.06" cy="165.73" r="1.75" fill="#5c5c5c"/>
<circle cx="309.96" cy="166.39" r="1.75" fill="#5c5c5c"/>
<circle cx="315.14" cy="164.73" r="1.75" fill="#5c5c5c"/>
<circle cx="317.34" cy="165.73" r="1.75" fill="#5c5c5c"/>
<circle cx="316.24" cy="166.39" r="1.75" fill="#5c5c5c"/>
<circle cx="321.42" cy="164.6" r="1.75" fill="#5c5c5c"/>
<circle cx="323.62" cy="165.38" r="1.75" fill="#5c5c5c"/>
<circle cx="322.52" cy="166.39" r="1.75" fill="#5c5c5c"/>
<circle cx="327.7" cy="164.41" r="1.75" fill="#5c5c5c"/>
<circle cx="329.9" cy="164.59" r="1.75" fill="#5c5c5c"/>
<circle cx="328.8" cy="166.39" r="1.75" fill="#5c5c5c"/>
<circle cx="333.98" cy="165.02" r="1.75" fill="#5c5c5c"/>
<circle cx="336.18" cy="164.72" r="1.75" fill="#5c5c5c"/>
<circle cx="335.08" cy="166.55" r="1.75" fill="#5c5c5c"/>
<circle cx="340.26" cy="165.25" r="1.75" fill="#5c5c5c"/>
<circle cx="342.46" cy="165.84" r="1.75" fill="#5c5c5c"/>
<circle cx="341.36" cy="166.55" r="1.75" fill="#5c5c5c"/>
<circle cx="346.54" cy="165.05" r="1.75" fill="#5c5c5c"/>
<circle cx="348.74" cy="166.05" r="1.75" fill="#5c5c5c"/>
<circle cx="347.64" cy="166.7" r="1.75" fill="#5c5c5c"/>
<line x1="39.7" y1="6.7" x2="39.7" y2="167.3" stroke="#1a1a1a" stroke-width="1.3"/>
<line x1="39.1" y1="166.7" x2="354.7" y2="166.7" stroke="#1a1a1a" stroke-width="1.3"/>
<line x1="35.9" y1="14.2" x2="39.7" y2="14.2" stroke="#1a1a1a" stroke-width="1.1"/>
<text x="34.6" y="17.15" font-size="8.3" font-weight="bold" text-anchor="end" fill="#1a1a1a" stroke="#1a1a1a" stroke-width="0.2">100</text>
<line x1="35.9" y1="90.45" x2="39.7" y2="90.45" stroke="#1a1a1a" stroke-width="1.1"/>
<text x="34.6" y="93.4" font-size="8.3" font-weight="bold" text-anchor="end" fill="#1a1a1a" stroke="#1a1a1a" stroke-width="0.2">50</text>
<line x1="35.9" y1="128.57" x2="39.7" y2="128.57" stroke="#1a1a1a" stroke-width="1.1"/>
<text x="34.6" y="131.52" font-size="8.3" font-weight="bold" text-anchor="end" fill="#1a1a1a" stroke="#1a1a1a" stroke-width="0.2">25</text>
<line x1="35.9" y1="151.45" x2="39.7" y2="151.45" stroke="#1a1a1a" stroke-width="1.1"/>
<text x="34.6" y="154.4" font-size="8.3" font-weight="bold" text-anchor="end" fill="#1a1a1a" stroke="#1a1a1a" stroke-width="0.2">10</text>
<line x1="35.9" y1="166.7" x2="39.7" y2="166.7" stroke="#1a1a1a" stroke-width="1.1"/>
<text x="34.6" y="169.65" font-size="8.3" font-weight="bold" text-anchor="end" fill="#1a1a1a" stroke="#1a1a1a" stroke-width="0.2">0</text>
<line x1="37.5" y1="52.32" x2="39.7" y2="52.32" stroke="#1a1a1a" stroke-width="1"/>
<line x1="46.2" y1="166.7" x2="46.2" y2="169.5" stroke="#1a1a1a" stroke-width="0.9"/>
<line x1="58.76" y1="166.7" x2="58.76" y2="169.5" stroke="#1a1a1a" stroke-width="0.9"/>
<line x1="71.32" y1="166.7" x2="71.32" y2="169.5" stroke="#1a1a1a" stroke-width="0.9"/>
<line x1="83.88" y1="166.7" x2="83.88" y2="169.5" stroke="#1a1a1a" stroke-width="0.9"/>
<line x1="96.44" y1="166.7" x2="96.44" y2="169.5" stroke="#1a1a1a" stroke-width="0.9"/>
<line x1="109" y1="166.7" x2="109" y2="169.5" stroke="#1a1a1a" stroke-width="0.9"/>
<line x1="121.56" y1="166.7" x2="121.56" y2="169.5" stroke="#1a1a1a" stroke-width="0.9"/>
<line x1="134.12" y1="166.7" x2="134.12" y2="169.5" stroke="#1a1a1a" stroke-width="0.9"/>
<line x1="146.68" y1="166.7" x2="146.68" y2="169.5" stroke="#1a1a1a" stroke-width="0.9"/>
<line x1="159.24" y1="166.7" x2="159.24" y2="169.5" stroke="#1a1a1a" stroke-width="0.9"/>
<line x1="171.8" y1="166.7" x2="171.8" y2="169.5" stroke="#1a1a1a" stroke-width="0.9"/>
<line x1="184.36" y1="166.7" x2="184.36" y2="169.5" stroke="#1a1a1a" stroke-width="0.9"/>
<line x1="196.92" y1="166.7" x2="196.92" y2="169.5" stroke="#1a1a1a" stroke-width="0.9"/>
<line x1="209.48" y1="166.7" x2="209.48" y2="169.5" stroke="#1a1a1a" stroke-width="0.9"/>
<line x1="222.04" y1="166.7" x2="222.04" y2="169.5" stroke="#1a1a1a" stroke-width="0.9"/>
<line x1="234.6" y1="166.7" x2="234.6" y2="169.5" stroke="#1a1a1a" stroke-width="0.9"/>
<line x1="247.16" y1="166.7" x2="247.16" y2="169.5" stroke="#1a1a1a" stroke-width="0.9"/>
<line x1="259.72" y1="166.7" x2="259.72" y2="169.5" stroke="#1a1a1a" stroke-width="0.9"/>
<line x1="272.28" y1="166.7" x2="272.28" y2="169.5" stroke="#1a1a1a" stroke-width="0.9"/>
<line x1="284.84" y1="166.7" x2="284.84" y2="169.5" stroke="#1a1a1a" stroke-width="0.9"/>
<line x1="297.4" y1="166.7" x2="297.4" y2="169.5" stroke="#1a1a1a" stroke-width="0.9"/>
<line x1="309.96" y1="166.7" x2="309.96" y2="169.5" stroke="#1a1a1a" stroke-width="0.9"/>
<line x1="322.52" y1="166.7" x2="322.52" y2="169.5" stroke="#1a1a1a" stroke-width="0.9"/>
<line x1="335.08" y1="166.7" x2="335.08" y2="169.5" stroke="#1a1a1a" stroke-width="0.9"/>
<line x1="347.64" y1="166.7" x2="347.64" y2="169.5" stroke="#1a1a1a" stroke-width="0.9"/>
<text x="18.1" y="86.9" font-size="8.3" font-weight="bold" text-anchor="middle" fill="#1a1a1a" stroke="#1a1a1a" stroke-width="0.2" transform="rotate(-90 18.1 86.9)" dominant-baseline="central">Inhibition (%)</text>
<line x1="54.5" y1="39.3" x2="61.2" y2="39.3" stroke="#333" stroke-width="1.8"/>
<path d="M51.0 39.3 L55.6 36.8 L55.6 41.8 Z" fill="#333"/>
<text x="66.7" y="43.4" font-size="9.6" font-weight="bold" text-anchor="start" fill="#1a1a1a" stroke="#1a1a1a" stroke-width="0.2">C11</text>
<text x="340.1" y="149.3" font-size="9.6" font-weight="bold" text-anchor="start" fill="#1a1a1a" stroke="#1a1a1a" stroke-width="0.2">Veh</text>
<line x1="348" y1="154" x2="348" y2="160.5" stroke="#222" stroke-width="1.7"/>
<path d="M348 164.4 L345.4 159.8 L350.6 159.8 Z" fill="#222"/>
<text x="177.6" y="181.1" font-size="8.5" font-weight="bold" text-anchor="start" fill="#1a1a1a" stroke="#1a1a1a" stroke-width="0.2">Chemical</text>
<text x="-0.8" y="191.4" font-size="13.2" font-weight="bold" text-anchor="start" fill="#2b2b2b" stroke="#2b2b2b" stroke-width="0.2">D</text>
<line x1="41.6" y1="269.05" x2="353.9" y2="269.05" stroke="#8c8c8c" stroke-width="0.9" stroke-dasharray="1 1.1"/>
<line x1="41.6" y1="307.02" x2="353.9" y2="307.02" stroke="#8c8c8c" stroke-width="0.9" stroke-dasharray="1 1.1"/>
<line x1="41.6" y1="329.81" x2="353.9" y2="329.81" stroke="#8c8c8c" stroke-width="0.9" stroke-dasharray="1 1.1"/>
<rect x="44.05" y="193.1" width="4.3" height="151.9" fill="#005a00"/>
<rect x="50.21" y="223.48" width="4.3" height="121.52" fill="#808080"/>
<rect x="56.37" y="235.94" width="4.3" height="109.06" fill="#808080"/>
<rect x="62.53" y="250.21" width="4.3" height="94.79" fill="#808080"/>
<rect x="68.69" y="243.23" width="4.3" height="101.77" fill="#808080"/>
<rect x="74.85" y="253.1" width="4.3" height="91.9" fill="#808080"/>
<rect x="81.01" y="262.97" width="4.3" height="82.03" fill="#808080"/>
<rect x="87.17" y="271.33" width="4.3" height="73.67" fill="#808080"/>
<rect x="93.33" y="285.76" width="4.3" height="59.24" fill="#808080"/>
<rect x="99.49" y="287.73" width="4.3" height="57.27" fill="#808080"/>
<rect x="105.65" y="293.05" width="4.3" height="51.95" fill="#808080"/>
<rect x="111.81" y="294.87" width="4.3" height="50.13" fill="#808080"/>
<rect x="117.97" y="298.37" width="4.3" height="46.63" fill="#808080"/>
<rect x="124.13" y="300.19" width="4.3" height="44.81" fill="#808080"/>
<rect x="130.29" y="303.68" width="4.3" height="41.32" fill="#808080"/>
<rect x="136.45" y="306.27" width="4.3" height="38.73" fill="#808080"/>
<rect x="142.61" y="312.49" width="4.3" height="32.51" fill="#a9a9a9"/>
<rect x="148.77" y="313.4" width="4.3" height="31.6" fill="#a9a9a9"/>
<rect x="154.93" y="314.16" width="4.3" height="30.84" fill="#a9a9a9"/>
<rect x="161.09" y="315.08" width="4.3" height="29.92" fill="#a9a9a9"/>
<rect x="167.25" y="314.62" width="4.3" height="30.38" fill="#a9a9a9"/>
<rect x="173.41" y="320.39" width="4.3" height="24.61" fill="#a9a9a9"/>
<rect x="179.57" y="321.76" width="4.3" height="23.24" fill="#a9a9a9"/>
<rect x="185.73" y="318.27" width="4.3" height="26.73" fill="#a9a9a9"/>
<rect x="191.89" y="322.37" width="4.3" height="22.63" fill="#a9a9a9"/>
<rect x="198.05" y="325.25" width="4.3" height="19.75" fill="#a9a9a9"/>
<rect x="204.21" y="325.25" width="4.3" height="19.75" fill="#a9a9a9"/>
<rect x="210.37" y="328.75" width="4.3" height="16.25" fill="#a9a9a9"/>
<rect x="216.53" y="331.03" width="4.3" height="13.97" fill="#a9a9a9"/>
<rect x="222.69" y="331.03" width="4.3" height="13.97" fill="#a9a9a9"/>
<rect x="228.85" y="333.91" width="4.3" height="11.09" fill="#a9a9a9"/>
<rect x="235.01" y="334.52" width="4.3" height="10.48" fill="#a9a9a9"/>
<rect x="241.17" y="335.13" width="4.3" height="9.87" fill="#a9a9a9"/>
<rect x="247.33" y="335.13" width="4.3" height="9.87" fill="#a9a9a9"/>
<rect x="253.49" y="337.4" width="4.3" height="7.6" fill="#a9a9a9"/>
<rect x="259.65" y="338.01" width="4.3" height="6.99" fill="#a9a9a9"/>
<rect x="265.81" y="339.23" width="4.3" height="5.77" fill="#a9a9a9"/>
<rect x="271.97" y="339.23" width="4.3" height="5.77" fill="#a9a9a9"/>
<rect x="278.13" y="338.47" width="4.3" height="6.53" fill="#a9a9a9"/>
<rect x="284.29" y="339.23" width="4.3" height="5.77" fill="#a9a9a9"/>
<rect x="290.45" y="338.47" width="4.3" height="6.53" fill="#a9a9a9"/>
<rect x="296.61" y="340.14" width="4.3" height="4.86" fill="#a9a9a9"/>
<rect x="302.77" y="341.05" width="4.3" height="3.95" fill="#a9a9a9"/>
<rect x="308.93" y="340.14" width="4.3" height="4.86" fill="#a9a9a9"/>
<rect x="315.09" y="341.05" width="4.3" height="3.95" fill="#a9a9a9"/>
<rect x="321.25" y="341.05" width="4.3" height="3.95" fill="#a9a9a9"/>
<rect x="327.41" y="341.66" width="4.3" height="3.34" fill="#a9a9a9"/>
<rect x="333.57" y="341.66" width="4.3" height="3.34" fill="#a9a9a9"/>
<rect x="339.73" y="342.72" width="4.3" height="2.28" fill="#a9a9a9"/>
<rect x="345.89" y="342.72" width="4.3" height="2.28" fill="#a9a9a9"/>
<line x1="52.36" y1="223.48" x2="52.36" y2="207.88" stroke="#6a6a6a" stroke-width="0.8"/>
<line x1="51.06" y1="207.88" x2="53.66" y2="207.88" stroke="#6a6a6a" stroke-width="0.8"/>
<line x1="58.52" y1="235.94" x2="58.52" y2="225.74" stroke="#6a6a6a" stroke-width="0.8"/>
<line x1="57.22" y1="225.74" x2="59.82" y2="225.74" stroke="#6a6a6a" stroke-width="0.8"/>
<line x1="64.68" y1="250.21" x2="64.68" y2="243.46" stroke="#6a6a6a" stroke-width="0.8"/>
<line x1="63.38" y1="243.46" x2="65.98" y2="243.46" stroke="#6a6a6a" stroke-width="0.8"/>
<line x1="70.84" y1="243.23" x2="70.84" y2="233.14" stroke="#6a6a6a" stroke-width="0.8"/>
<line x1="69.54" y1="233.14" x2="72.14" y2="233.14" stroke="#6a6a6a" stroke-width="0.8"/>
<line x1="77" y1="253.1" x2="77" y2="243.85" stroke="#6a6a6a" stroke-width="0.8"/>
<line x1="75.7" y1="243.85" x2="78.3" y2="243.85" stroke="#6a6a6a" stroke-width="0.8"/>
<line x1="83.16" y1="262.97" x2="83.16" y2="251.4" stroke="#6a6a6a" stroke-width="0.8"/>
<line x1="81.86" y1="251.4" x2="84.46" y2="251.4" stroke="#6a6a6a" stroke-width="0.8"/>
<line x1="89.32" y1="271.33" x2="89.32" y2="259.1" stroke="#6a6a6a" stroke-width="0.8"/>
<line x1="88.02" y1="259.1" x2="90.62" y2="259.1" stroke="#6a6a6a" stroke-width="0.8"/>
<line x1="95.48" y1="285.76" x2="95.48" y2="280.61" stroke="#6a6a6a" stroke-width="0.8"/>
<line x1="94.18" y1="280.61" x2="96.78" y2="280.61" stroke="#6a6a6a" stroke-width="0.8"/>
<line x1="101.64" y1="287.73" x2="101.64" y2="282.33" stroke="#6a6a6a" stroke-width="0.8"/>
<line x1="100.34" y1="282.33" x2="102.94" y2="282.33" stroke="#6a6a6a" stroke-width="0.8"/>
<line x1="107.8" y1="293.05" x2="107.8" y2="284.95" stroke="#6a6a6a" stroke-width="0.8"/>
<line x1="106.5" y1="284.95" x2="109.1" y2="284.95" stroke="#6a6a6a" stroke-width="0.8"/>
<line x1="113.96" y1="294.87" x2="113.96" y2="287.75" stroke="#6a6a6a" stroke-width="0.8"/>
<line x1="112.66" y1="287.75" x2="115.26" y2="287.75" stroke="#6a6a6a" stroke-width="0.8"/>
<line x1="120.12" y1="298.37" x2="120.12" y2="294.52" stroke="#6a6a6a" stroke-width="0.8"/>
<line x1="118.82" y1="294.52" x2="121.42" y2="294.52" stroke="#6a6a6a" stroke-width="0.8"/>
<line x1="126.28" y1="300.19" x2="126.28" y2="294.38" stroke="#6a6a6a" stroke-width="0.8"/>
<line x1="124.98" y1="294.38" x2="127.58" y2="294.38" stroke="#6a6a6a" stroke-width="0.8"/>
<line x1="132.44" y1="303.68" x2="132.44" y2="298.62" stroke="#6a6a6a" stroke-width="0.8"/>
<line x1="131.14" y1="298.62" x2="133.74" y2="298.62" stroke="#6a6a6a" stroke-width="0.8"/>
<line x1="138.6" y1="306.27" x2="138.6" y2="301.13" stroke="#6a6a6a" stroke-width="0.8"/>
<line x1="137.3" y1="301.13" x2="139.9" y2="301.13" stroke="#6a6a6a" stroke-width="0.8"/>
<line x1="144.76" y1="312.49" x2="144.76" y2="307.32" stroke="#8a8a8a" stroke-width="0.8"/>
<line x1="143.46" y1="307.32" x2="146.06" y2="307.32" stroke="#8a8a8a" stroke-width="0.8"/>
<line x1="150.92" y1="313.4" x2="150.92" y2="307.84" stroke="#8a8a8a" stroke-width="0.8"/>
<line x1="149.62" y1="307.84" x2="152.22" y2="307.84" stroke="#8a8a8a" stroke-width="0.8"/>
<line x1="157.08" y1="314.16" x2="157.08" y2="310.41" stroke="#8a8a8a" stroke-width="0.8"/>
<line x1="155.78" y1="310.41" x2="158.38" y2="310.41" stroke="#8a8a8a" stroke-width="0.8"/>
<line x1="163.24" y1="315.08" x2="163.24" y2="312.76" stroke="#8a8a8a" stroke-width="0.8"/>
<line x1="161.94" y1="312.76" x2="164.54" y2="312.76" stroke="#8a8a8a" stroke-width="0.8"/>
<line x1="169.4" y1="314.62" x2="169.4" y2="310.19" stroke="#8a8a8a" stroke-width="0.8"/>
<line x1="168.1" y1="310.19" x2="170.7" y2="310.19" stroke="#8a8a8a" stroke-width="0.8"/>
<line x1="175.56" y1="320.39" x2="175.56" y2="316.28" stroke="#8a8a8a" stroke-width="0.8"/>
<line x1="174.26" y1="316.28" x2="176.86" y2="316.28" stroke="#8a8a8a" stroke-width="0.8"/>
<line x1="181.72" y1="321.76" x2="181.72" y2="318.66" stroke="#8a8a8a" stroke-width="0.8"/>
<line x1="180.42" y1="318.66" x2="183.02" y2="318.66" stroke="#8a8a8a" stroke-width="0.8"/>
<line x1="187.88" y1="318.27" x2="187.88" y2="314.24" stroke="#8a8a8a" stroke-width="0.8"/>
<line x1="186.58" y1="314.24" x2="189.18" y2="314.24" stroke="#8a8a8a" stroke-width="0.8"/>
<line x1="194.04" y1="322.37" x2="194.04" y2="318.89" stroke="#8a8a8a" stroke-width="0.8"/>
<line x1="192.74" y1="318.89" x2="195.34" y2="318.89" stroke="#8a8a8a" stroke-width="0.8"/>
<line x1="200.2" y1="325.25" x2="200.2" y2="322.08" stroke="#8a8a8a" stroke-width="0.8"/>
<line x1="198.9" y1="322.08" x2="201.5" y2="322.08" stroke="#8a8a8a" stroke-width="0.8"/>
<line x1="206.36" y1="325.25" x2="206.36" y2="322.75" stroke="#8a8a8a" stroke-width="0.8"/>
<line x1="205.06" y1="322.75" x2="207.66" y2="322.75" stroke="#8a8a8a" stroke-width="0.8"/>
<line x1="218.68" y1="331.03" x2="218.68" y2="329.31" stroke="#8a8a8a" stroke-width="0.8"/>
<line x1="217.38" y1="329.31" x2="219.98" y2="329.31" stroke="#8a8a8a" stroke-width="0.8"/>
<line x1="231" y1="333.91" x2="231" y2="331.8" stroke="#8a8a8a" stroke-width="0.8"/>
<line x1="229.7" y1="331.8" x2="232.3" y2="331.8" stroke="#8a8a8a" stroke-width="0.8"/>
<line x1="237.16" y1="334.52" x2="237.16" y2="332.36" stroke="#8a8a8a" stroke-width="0.8"/>
<line x1="235.86" y1="332.36" x2="238.46" y2="332.36" stroke="#8a8a8a" stroke-width="0.8"/>
<line x1="243.32" y1="335.13" x2="243.32" y2="333.05" stroke="#8a8a8a" stroke-width="0.8"/>
<line x1="242.02" y1="333.05" x2="244.62" y2="333.05" stroke="#8a8a8a" stroke-width="0.8"/>
<line x1="249.48" y1="335.13" x2="249.48" y2="333.02" stroke="#8a8a8a" stroke-width="0.8"/>
<line x1="248.18" y1="333.02" x2="250.78" y2="333.02" stroke="#8a8a8a" stroke-width="0.8"/>
<line x1="261.8" y1="338.01" x2="261.8" y2="336.35" stroke="#8a8a8a" stroke-width="0.8"/>
<line x1="260.5" y1="336.35" x2="263.1" y2="336.35" stroke="#8a8a8a" stroke-width="0.8"/>
<line x1="267.96" y1="339.23" x2="267.96" y2="337.7" stroke="#8a8a8a" stroke-width="0.8"/>
<line x1="266.66" y1="337.7" x2="269.26" y2="337.7" stroke="#8a8a8a" stroke-width="0.8"/>
<line x1="274.12" y1="339.23" x2="274.12" y2="337.11" stroke="#8a8a8a" stroke-width="0.8"/>
<line x1="272.82" y1="337.11" x2="275.42" y2="337.11" stroke="#8a8a8a" stroke-width="0.8"/>
<line x1="280.28" y1="338.47" x2="280.28" y2="336.36" stroke="#8a8a8a" stroke-width="0.8"/>
<line x1="278.98" y1="336.36" x2="281.58" y2="336.36" stroke="#8a8a8a" stroke-width="0.8"/>
<line x1="286.44" y1="339.23" x2="286.44" y2="336.88" stroke="#8a8a8a" stroke-width="0.8"/>
<line x1="285.14" y1="336.88" x2="287.74" y2="336.88" stroke="#8a8a8a" stroke-width="0.8"/>
<line x1="292.6" y1="338.47" x2="292.6" y2="336.12" stroke="#8a8a8a" stroke-width="0.8"/>
<line x1="291.3" y1="336.12" x2="293.9" y2="336.12" stroke="#8a8a8a" stroke-width="0.8"/>
<line x1="304.92" y1="341.05" x2="304.92" y2="339.5" stroke="#8a8a8a" stroke-width="0.8"/>
<line x1="303.62" y1="339.5" x2="306.22" y2="339.5" stroke="#8a8a8a" stroke-width="0.8"/>
<line x1="329.56" y1="341.66" x2="329.56" y2="339.81" stroke="#8a8a8a" stroke-width="0.8"/>
<line x1="328.26" y1="339.81" x2="330.86" y2="339.81" stroke="#8a8a8a" stroke-width="0.8"/>
<circle cx="46.2" cy="191.58" r="1.75" fill="#111"/>
<circle cx="46.2" cy="192.34" r="1.75" fill="#111"/>
<circle cx="46.2" cy="193.1" r="1.75" fill="#111"/>
<circle cx="51.36" cy="210.47" r="1.75" fill="#111"/>
<circle cx="53.36" cy="227.89" r="1.75" fill="#111"/>
<circle cx="52.36" cy="241.66" r="1.75" fill="#111"/>
<circle cx="57.52" cy="227.82" r="1.75" fill="#111"/>
<circle cx="59.52" cy="235.53" r="1.75" fill="#111"/>
<circle cx="58.52" cy="248.21" r="1.75" fill="#111"/>
<circle cx="63.68" cy="243.34" r="1.75" fill="#111"/>
<circle cx="65.68" cy="250.14" r="1.75" fill="#111"/>
<circle cx="64.68" cy="256.84" r="1.75" fill="#111"/>
<circle cx="69.84" cy="230.87" r="1.75" fill="#111"/>
<circle cx="71.84" cy="247.78" r="1.75" fill="#111"/>
<circle cx="70.84" cy="251.04" r="1.75" fill="#111"/>
<circle cx="76" cy="242.06" r="1.75" fill="#111"/>
<circle cx="78" cy="249.98" r="1.75" fill="#111"/>
<circle cx="77" cy="260.55" r="1.75" fill="#111"/>
<circle cx="82.16" cy="255.26" r="1.75" fill="#111"/>
<circle cx="84.16" cy="261.89" r="1.75" fill="#111"/>
<circle cx="83.16" cy="278.41" r="1.75" fill="#111"/>
<circle cx="88.32" cy="261.01" r="1.75" fill="#111"/>
<circle cx="90.32" cy="272.12" r="1.75" fill="#111"/>
<circle cx="89.32" cy="285.47" r="1.75" fill="#111"/>
<circle cx="94.48" cy="281.55" r="1.75" fill="#111"/>
<circle cx="96.48" cy="283.55" r="1.75" fill="#111"/>
<circle cx="95.48" cy="291.84" r="1.75" fill="#111"/>
<circle cx="100.64" cy="282.94" r="1.75" fill="#111"/>
<circle cx="102.64" cy="290.01" r="1.75" fill="#111"/>
<circle cx="101.64" cy="293.75" r="1.75" fill="#111"/>
<circle cx="106.8" cy="284.16" r="1.75" fill="#111"/>
<circle cx="108.8" cy="294.78" r="1.75" fill="#111"/>
<circle cx="107.8" cy="300.35" r="1.75" fill="#111"/>
<circle cx="112.96" cy="287.45" r="1.75" fill="#111"/>
<circle cx="114.96" cy="295.54" r="1.75" fill="#111"/>
<circle cx="113.96" cy="301.7" r="1.75" fill="#111"/>
<circle cx="119.12" cy="294.95" r="1.75" fill="#111"/>
<circle cx="121.12" cy="300.5" r="1.75" fill="#111"/>
<circle cx="120.12" cy="302.65" r="1.75" fill="#111"/>
<circle cx="125.28" cy="293.31" r="1.75" fill="#111"/>
<circle cx="127.28" cy="300.53" r="1.75" fill="#111"/>
<circle cx="126.28" cy="304.93" r="1.75" fill="#111"/>
<circle cx="131.44" cy="297.85" r="1.75" fill="#111"/>
<circle cx="133.44" cy="303.88" r="1.75" fill="#111"/>
<circle cx="132.44" cy="307.98" r="1.75" fill="#111"/>
<circle cx="137.6" cy="299.75" r="1.75" fill="#111"/>
<circle cx="139.6" cy="305.46" r="1.75" fill="#111"/>
<circle cx="138.6" cy="310.01" r="1.75" fill="#111"/>
<circle cx="144.76" cy="307.95" r="1.75" fill="#5c5c5c"/>
<circle cx="144.76" cy="312.41" r="1.75" fill="#5c5c5c"/>
<circle cx="144.76" cy="318.3" r="1.75" fill="#5c5c5c"/>
<circle cx="150.92" cy="308.36" r="1.75" fill="#5c5c5c"/>
<circle cx="150.92" cy="314.1" r="1.75" fill="#5c5c5c"/>
<circle cx="150.92" cy="319.48" r="1.75" fill="#5c5c5c"/>
<circle cx="157.08" cy="311.69" r="1.75" fill="#5c5c5c"/>
<circle cx="157.08" cy="314.43" r="1.75" fill="#5c5c5c"/>
<circle cx="157.08" cy="319.2" r="1.75" fill="#5c5c5c"/>
<circle cx="163.24" cy="312.54" r="1.75" fill="#5c5c5c"/>
<circle cx="163.24" cy="315.11" r="1.75" fill="#5c5c5c"/>
<circle cx="163.24" cy="317.17" r="1.75" fill="#5c5c5c"/>
<circle cx="169.4" cy="310.01" r="1.75" fill="#5c5c5c"/>
<circle cx="169.4" cy="313.78" r="1.75" fill="#5c5c5c"/>
<circle cx="169.4" cy="318.86" r="1.75" fill="#5c5c5c"/>
<circle cx="175.56" cy="315.99" r="1.75" fill="#5c5c5c"/>
<circle cx="175.56" cy="320.87" r="1.75" fill="#5c5c5c"/>
<circle cx="175.56" cy="324.22" r="1.75" fill="#5c5c5c"/>
<circle cx="181.72" cy="318.45" r="1.75" fill="#5c5c5c"/>
<circle cx="181.72" cy="321.57" r="1.75" fill="#5c5c5c"/>
<circle cx="181.72" cy="324.65" r="1.75" fill="#5c5c5c"/>
<circle cx="187.88" cy="313.61" r="1.75" fill="#5c5c5c"/>
<circle cx="187.88" cy="317.03" r="1.75" fill="#5c5c5c"/>
<circle cx="187.88" cy="321.65" r="1.75" fill="#5c5c5c"/>
<circle cx="194.04" cy="318.94" r="1.75" fill="#5c5c5c"/>
<circle cx="194.04" cy="323.4" r="1.75" fill="#5c5c5c"/>
<circle cx="194.04" cy="325.9" r="1.75" fill="#5c5c5c"/>
<circle cx="200.2" cy="322.31" r="1.75" fill="#5c5c5c"/>
<circle cx="200.2" cy="324.24" r="1.75" fill="#5c5c5c"/>
<circle cx="200.2" cy="328.65" r="1.75" fill="#5c5c5c"/>
<circle cx="206.36" cy="323.24" r="1.75" fill="#5c5c5c"/>
<circle cx="206.36" cy="325.49" r="1.75" fill="#5c5c5c"/>
<circle cx="206.36" cy="328.25" r="1.75" fill="#5c5c5c"/>
<circle cx="212.52" cy="327.64" r="1.75" fill="#5c5c5c"/>
<circle cx="212.52" cy="328.81" r="1.75" fill="#5c5c5c"/>
<circle cx="212.52" cy="330.16" r="1.75" fill="#5c5c5c"/>
<circle cx="218.68" cy="329.9" r="1.75" fill="#5c5c5c"/>
<circle cx="218.68" cy="331.67" r="1.75" fill="#5c5c5c"/>
<circle cx="218.68" cy="333.34" r="1.75" fill="#5c5c5c"/>
<circle cx="224.84" cy="329.88" r="1.75" fill="#5c5c5c"/>
<circle cx="224.84" cy="331.39" r="1.75" fill="#5c5c5c"/>
<circle cx="224.84" cy="332.65" r="1.75" fill="#5c5c5c"/>
<circle cx="231" cy="331.41" r="1.75" fill="#5c5c5c"/>
<circle cx="231" cy="334.52" r="1.75" fill="#5c5c5c"/>
<circle cx="231" cy="335.64" r="1.75" fill="#5c5c5c"/>
<circle cx="237.16" cy="332.61" r="1.75" fill="#5c5c5c"/>
<circle cx="237.16" cy="333.96" r="1.75" fill="#5c5c5c"/>
<circle cx="237.16" cy="336.92" r="1.75" fill="#5c5c5c"/>
<circle cx="243.32" cy="332.64" r="1.75" fill="#5c5c5c"/>
<circle cx="243.32" cy="335.45" r="1.75" fill="#5c5c5c"/>
<circle cx="243.32" cy="336.79" r="1.75" fill="#5c5c5c"/>
<circle cx="249.48" cy="333.56" r="1.75" fill="#5c5c5c"/>
<circle cx="249.48" cy="334.57" r="1.75" fill="#5c5c5c"/>
<circle cx="249.48" cy="337.78" r="1.75" fill="#5c5c5c"/>
<circle cx="255.64" cy="336.22" r="1.75" fill="#5c5c5c"/>
<circle cx="255.64" cy="337.88" r="1.75" fill="#5c5c5c"/>
<circle cx="255.64" cy="338.74" r="1.75" fill="#5c5c5c"/>
<circle cx="261.8" cy="336.68" r="1.75" fill="#5c5c5c"/>
<circle cx="261.8" cy="338.03" r="1.75" fill="#5c5c5c"/>
<circle cx="261.8" cy="340" r="1.75" fill="#5c5c5c"/>
<circle cx="267.96" cy="337.84" r="1.75" fill="#5c5c5c"/>
<circle cx="267.96" cy="339.95" r="1.75" fill="#5c5c5c"/>
<circle cx="267.96" cy="340.9" r="1.75" fill="#5c5c5c"/>
<circle cx="274.12" cy="337.64" r="1.75" fill="#5c5c5c"/>
<circle cx="274.12" cy="339.13" r="1.75" fill="#5c5c5c"/>
<circle cx="274.12" cy="341.88" r="1.75" fill="#5c5c5c"/>
<circle cx="280.28" cy="336.3" r="1.75" fill="#5c5c5c"/>
<circle cx="280.28" cy="338.45" r="1.75" fill="#5c5c5c"/>
<circle cx="280.28" cy="340.51" r="1.75" fill="#5c5c5c"/>
<circle cx="286.44" cy="337.08" r="1.75" fill="#5c5c5c"/>
<circle cx="286.44" cy="339.88" r="1.75" fill="#5c5c5c"/>
<circle cx="286.44" cy="341.78" r="1.75" fill="#5c5c5c"/>
<circle cx="292.6" cy="336.14" r="1.75" fill="#5c5c5c"/>
<circle cx="292.6" cy="337.92" r="1.75" fill="#5c5c5c"/>
<circle cx="292.6" cy="340.83" r="1.75" fill="#5c5c5c"/>
<circle cx="298.76" cy="338.51" r="1.75" fill="#5c5c5c"/>
<circle cx="298.76" cy="340.29" r="1.75" fill="#5c5c5c"/>
<circle cx="298.76" cy="341.24" r="1.75" fill="#5c5c5c"/>
<circle cx="304.92" cy="338.98" r="1.75" fill="#5c5c5c"/>
<circle cx="304.92" cy="341.69" r="1.75" fill="#5c5c5c"/>
<circle cx="304.92" cy="342.08" r="1.75" fill="#5c5c5c"/>
<circle cx="311.08" cy="338.85" r="1.75" fill="#5c5c5c"/>
<circle cx="311.08" cy="340.63" r="1.75" fill="#5c5c5c"/>
<circle cx="311.08" cy="341.67" r="1.75" fill="#5c5c5c"/>
<circle cx="317.24" cy="340.04" r="1.75" fill="#5c5c5c"/>
<circle cx="317.24" cy="341.78" r="1.75" fill="#5c5c5c"/>
<circle cx="317.24" cy="342.24" r="1.75" fill="#5c5c5c"/>
<circle cx="323.4" cy="339.95" r="1.75" fill="#5c5c5c"/>
<circle cx="323.4" cy="341.25" r="1.75" fill="#5c5c5c"/>
<circle cx="323.4" cy="342.01" r="1.75" fill="#5c5c5c"/>
<circle cx="329.56" cy="339.15" r="1.75" fill="#5c5c5c"/>
<circle cx="329.56" cy="341.49" r="1.75" fill="#5c5c5c"/>
<circle cx="329.56" cy="342.84" r="1.75" fill="#5c5c5c"/>
<circle cx="335.72" cy="340.29" r="1.75" fill="#5c5c5c"/>
<circle cx="335.72" cy="341.88" r="1.75" fill="#5c5c5c"/>
<circle cx="335.72" cy="343.23" r="1.75" fill="#5c5c5c"/>
<circle cx="341.88" cy="341.59" r="1.75" fill="#5c5c5c"/>
<circle cx="341.88" cy="342.21" r="1.75" fill="#5c5c5c"/>
<circle cx="341.88" cy="344.39" r="1.75" fill="#5c5c5c"/>
<circle cx="348.04" cy="340.96" r="1.75" fill="#5c5c5c"/>
<circle cx="348.04" cy="342.75" r="1.75" fill="#5c5c5c"/>
<circle cx="348.04" cy="343.79" r="1.75" fill="#5c5c5c"/>
<line x1="40.6" y1="184.9" x2="40.6" y2="345.6" stroke="#1a1a1a" stroke-width="1.3"/>
<line x1="40" y1="345" x2="353.9" y2="345" stroke="#1a1a1a" stroke-width="1.3"/>
<line x1="36.8" y1="193.1" x2="40.6" y2="193.1" stroke="#1a1a1a" stroke-width="1.1"/>
<text x="35.4" y="196.05" font-size="8.3" font-weight="bold" text-anchor="end" fill="#1a1a1a" stroke="#1a1a1a" stroke-width="0.2">100</text>
<line x1="36.8" y1="269.05" x2="40.6" y2="269.05" stroke="#1a1a1a" stroke-width="1.1"/>
<text x="35.4" y="272" font-size="8.3" font-weight="bold" text-anchor="end" fill="#1a1a1a" stroke="#1a1a1a" stroke-width="0.2">50</text>
<line x1="36.8" y1="307.02" x2="40.6" y2="307.02" stroke="#1a1a1a" stroke-width="1.1"/>
<text x="35.4" y="309.97" font-size="8.3" font-weight="bold" text-anchor="end" fill="#1a1a1a" stroke="#1a1a1a" stroke-width="0.2">25</text>
<line x1="36.8" y1="329.81" x2="40.6" y2="329.81" stroke="#1a1a1a" stroke-width="1.1"/>
<text x="35.4" y="332.76" font-size="8.3" font-weight="bold" text-anchor="end" fill="#1a1a1a" stroke="#1a1a1a" stroke-width="0.2">10</text>
<line x1="36.8" y1="345" x2="40.6" y2="345" stroke="#1a1a1a" stroke-width="1.1"/>
<text x="35.4" y="347.95" font-size="8.3" font-weight="bold" text-anchor="end" fill="#1a1a1a" stroke="#1a1a1a" stroke-width="0.2">0</text>
<line x1="38.4" y1="231.07" x2="40.6" y2="231.07" stroke="#1a1a1a" stroke-width="1"/>
<line x1="46.2" y1="345" x2="46.2" y2="347.8" stroke="#1a1a1a" stroke-width="0.9"/>
<line x1="52.36" y1="345" x2="52.36" y2="347.8" stroke="#1a1a1a" stroke-width="0.9"/>
<line x1="58.52" y1="345" x2="58.52" y2="347.8" stroke="#1a1a1a" stroke-width="0.9"/>
<line x1="64.68" y1="345" x2="64.68" y2="347.8" stroke="#1a1a1a" stroke-width="0.9"/>
<line x1="70.84" y1="345" x2="70.84" y2="347.8" stroke="#1a1a1a" stroke-width="0.9"/>
<line x1="77" y1="345" x2="77" y2="347.8" stroke="#1a1a1a" stroke-width="0.9"/>
<line x1="83.16" y1="345" x2="83.16" y2="347.8" stroke="#1a1a1a" stroke-width="0.9"/>
<line x1="89.32" y1="345" x2="89.32" y2="347.8" stroke="#1a1a1a" stroke-width="0.9"/>
<line x1="95.48" y1="345" x2="95.48" y2="347.8" stroke="#1a1a1a" stroke-width="0.9"/>
<line x1="101.64" y1="345" x2="101.64" y2="347.8" stroke="#1a1a1a" stroke-width="0.9"/>
<line x1="107.8" y1="345" x2="107.8" y2="347.8" stroke="#1a1a1a" stroke-width="0.9"/>
<line x1="113.96" y1="345" x2="113.96" y2="347.8" stroke="#1a1a1a" stroke-width="0.9"/>
<line x1="120.12" y1="345" x2="120.12" y2="347.8" stroke="#1a1a1a" stroke-width="0.9"/>
<line x1="126.28" y1="345" x2="126.28" y2="347.8" stroke="#1a1a1a" stroke-width="0.9"/>
<line x1="132.44" y1="345" x2="132.44" y2="347.8" stroke="#1a1a1a" stroke-width="0.9"/>
<line x1="138.6" y1="345" x2="138.6" y2="347.8" stroke="#1a1a1a" stroke-width="0.9"/>
<line x1="144.76" y1="345" x2="144.76" y2="347.8" stroke="#1a1a1a" stroke-width="0.9"/>
<line x1="150.92" y1="345" x2="150.92" y2="347.8" stroke="#1a1a1a" stroke-width="0.9"/>
<line x1="157.08" y1="345" x2="157.08" y2="347.8" stroke="#1a1a1a" stroke-width="0.9"/>
<line x1="163.24" y1="345" x2="163.24" y2="347.8" stroke="#1a1a1a" stroke-width="0.9"/>
<line x1="169.4" y1="345" x2="169.4" y2="347.8" stroke="#1a1a1a" stroke-width="0.9"/>
<line x1="175.56" y1="345" x2="175.56" y2="347.8" stroke="#1a1a1a" stroke-width="0.9"/>
<line x1="181.72" y1="345" x2="181.72" y2="347.8" stroke="#1a1a1a" stroke-width="0.9"/>
<line x1="187.88" y1="345" x2="187.88" y2="347.8" stroke="#1a1a1a" stroke-width="0.9"/>
<line x1="194.04" y1="345" x2="194.04" y2="347.8" stroke="#1a1a1a" stroke-width="0.9"/>
<line x1="200.2" y1="345" x2="200.2" y2="347.8" stroke="#1a1a1a" stroke-width="0.9"/>
<line x1="206.36" y1="345" x2="206.36" y2="347.8" stroke="#1a1a1a" stroke-width="0.9"/>
<line x1="212.52" y1="345" x2="212.52" y2="347.8" stroke="#1a1a1a" stroke-width="0.9"/>
<line x1="218.68" y1="345" x2="218.68" y2="347.8" stroke="#1a1a1a" stroke-width="0.9"/>
<line x1="224.84" y1="345" x2="224.84" y2="347.8" stroke="#1a1a1a" stroke-width="0.9"/>
<line x1="231" y1="345" x2="231" y2="347.8" stroke="#1a1a1a" stroke-width="0.9"/>
<line x1="237.16" y1="345" x2="237.16" y2="347.8" stroke="#1a1a1a" stroke-width="0.9"/>
<line x1="243.32" y1="345" x2="243.32" y2="347.8" stroke="#1a1a1a" stroke-width="0.9"/>
<line x1="249.48" y1="345" x2="249.48" y2="347.8" stroke="#1a1a1a" stroke-width="0.9"/>
<line x1="255.64" y1="345" x2="255.64" y2="347.8" stroke="#1a1a1a" stroke-width="0.9"/>
<line x1="261.8" y1="345" x2="261.8" y2="347.8" stroke="#1a1a1a" stroke-width="0.9"/>
<line x1="267.96" y1="345" x2="267.96" y2="347.8" stroke="#1a1a1a" stroke-width="0.9"/>
<line x1="274.12" y1="345" x2="274.12" y2="347.8" stroke="#1a1a1a" stroke-width="0.9"/>
<line x1="280.28" y1="345" x2="280.28" y2="347.8" stroke="#1a1a1a" stroke-width="0.9"/>
<line x1="286.44" y1="345" x2="286.44" y2="347.8" stroke="#1a1a1a" stroke-width="0.9"/>
<line x1="292.6" y1="345" x2="292.6" y2="347.8" stroke="#1a1a1a" stroke-width="0.9"/>
<line x1="298.76" y1="345" x2="298.76" y2="347.8" stroke="#1a1a1a" stroke-width="0.9"/>
<line x1="304.92" y1="345" x2="304.92" y2="347.8" stroke="#1a1a1a" stroke-width="0.9"/>
<line x1="311.08" y1="345" x2="311.08" y2="347.8" stroke="#1a1a1a" stroke-width="0.9"/>
<line x1="317.24" y1="345" x2="317.24" y2="347.8" stroke="#1a1a1a" stroke-width="0.9"/>
<line x1="323.4" y1="345" x2="323.4" y2="347.8" stroke="#1a1a1a" stroke-width="0.9"/>
<line x1="329.56" y1="345" x2="329.56" y2="347.8" stroke="#1a1a1a" stroke-width="0.9"/>
<line x1="335.72" y1="345" x2="335.72" y2="347.8" stroke="#1a1a1a" stroke-width="0.9"/>
<line x1="341.88" y1="345" x2="341.88" y2="347.8" stroke="#1a1a1a" stroke-width="0.9"/>
<line x1="348.04" y1="345" x2="348.04" y2="347.8" stroke="#1a1a1a" stroke-width="0.9"/>
<text x="20.3" y="266.1" font-size="8.3" font-weight="bold" text-anchor="middle" fill="#1a1a1a" stroke="#1a1a1a" stroke-width="0.2" transform="rotate(-90 20.3 266.1)" dominant-baseline="central">Inhibition (%)</text>
<line x1="54.5" y1="193.8" x2="61" y2="193.8" stroke="#333" stroke-width="1.8"/>
<path d="M51.0 193.8 L55.6 191.3 L55.6 196.3 Z" fill="#333"/>
<text x="67.7" y="197.7" font-size="9.6" font-weight="bold" text-anchor="start" fill="#1a1a1a" stroke="#1a1a1a" stroke-width="0.2">C2.2</text>
<text x="340.1" y="326.8" font-size="9.6" font-weight="bold" text-anchor="start" fill="#1a1a1a" stroke="#1a1a1a" stroke-width="0.2">Veh</text>
<line x1="347.7" y1="331.4" x2="347.7" y2="337.8" stroke="#222" stroke-width="1.7"/>
<path d="M347.7 341.6 L345.1 337.0 L350.3 337.0 Z" fill="#222"/>
<text x="177.4" y="359.4" font-size="8.5" font-weight="bold" text-anchor="start" fill="#1a1a1a" stroke="#1a1a1a" stroke-width="0.2">Chemical</text>
<text x="508.4" y="10.4" font-size="13.2" font-weight="bold" text-anchor="start" fill="#2b2b2b" stroke="#2b2b2b" stroke-width="0.2">C</text>
<line x1="544" y1="89.95" x2="662.5" y2="89.95" stroke="#8c8c8c" stroke-width="0.9" stroke-dasharray="1 1.1"/>
<line x1="629" y1="27.5" x2="629" y2="146.4" stroke="#8c8c8c" stroke-width="0.9" stroke-dasharray="1 1.6"/>
<line x1="543.5" y1="27.5" x2="543.5" y2="147" stroke="#1a1a1a" stroke-width="1.2"/>
<line x1="539.8" y1="33.5" x2="543.5" y2="33.5" stroke="#1a1a1a" stroke-width="1.1"/>
<text x="538.9" y="36.34" font-size="7.9" font-weight="bold" text-anchor="end" fill="#1a1a1a" stroke="#1a1a1a" stroke-width="0.2">100</text>
<line x1="539.8" y1="89.95" x2="543.5" y2="89.95" stroke="#1a1a1a" stroke-width="1.1"/>
<text x="538.9" y="92.79" font-size="7.9" font-weight="bold" text-anchor="end" fill="#1a1a1a" stroke="#1a1a1a" stroke-width="0.2">50</text>
<line x1="539.8" y1="146.4" x2="543.5" y2="146.4" stroke="#1a1a1a" stroke-width="1.1"/>
<text x="538.9" y="149.24" font-size="7.9" font-weight="bold" text-anchor="end" fill="#1a1a1a" stroke="#1a1a1a" stroke-width="0.2">0</text>
<line x1="541.5" y1="61.73" x2="543.5" y2="61.73" stroke="#1a1a1a" stroke-width="1"/>
<line x1="541.5" y1="118.18" x2="543.5" y2="118.18" stroke="#1a1a1a" stroke-width="1"/>
<line x1="542.1" y1="146.4" x2="662.5" y2="146.4" stroke="#1a1a1a" stroke-width="1.3"/>
<line x1="542.7" y1="146.4" x2="542.7" y2="149.6" stroke="#1a1a1a" stroke-width="1.1"/>
<text x="542.7" y="159.1" font-size="7.8" font-weight="bold" text-anchor="middle" fill="#1a1a1a" stroke="#1a1a1a" stroke-width="0.2">0.1</text>
<line x1="551.72" y1="146.4" x2="551.72" y2="148.3" stroke="#1a1a1a" stroke-width="0.9"/>
<line x1="556.99" y1="146.4" x2="556.99" y2="148.3" stroke="#1a1a1a" stroke-width="0.9"/>
<line x1="560.73" y1="146.4" x2="560.73" y2="148.3" stroke="#1a1a1a" stroke-width="0.9"/>
<line x1="563.63" y1="146.4" x2="563.63" y2="148.3" stroke="#1a1a1a" stroke-width="0.9"/>
<line x1="566.01" y1="146.4" x2="566.01" y2="148.3" stroke="#1a1a1a" stroke-width="0.9"/>
<line x1="568.01" y1="146.4" x2="568.01" y2="148.3" stroke="#1a1a1a" stroke-width="0.9"/>
<line x1="569.75" y1="146.4" x2="569.75" y2="148.3" stroke="#1a1a1a" stroke-width="0.9"/>
<line x1="571.28" y1="146.4" x2="571.28" y2="148.3" stroke="#1a1a1a" stroke-width="0.9"/>
<line x1="572.65" y1="146.4" x2="572.65" y2="149.6" stroke="#1a1a1a" stroke-width="1.1"/>
<text x="572.65" y="159.1" font-size="7.8" font-weight="bold" text-anchor="middle" fill="#1a1a1a" stroke="#1a1a1a" stroke-width="0.2">1</text>
<line x1="581.67" y1="146.4" x2="581.67" y2="148.3" stroke="#1a1a1a" stroke-width="0.9"/>
<line x1="586.94" y1="146.4" x2="586.94" y2="148.3" stroke="#1a1a1a" stroke-width="0.9"/>
<line x1="590.68" y1="146.4" x2="590.68" y2="148.3" stroke="#1a1a1a" stroke-width="0.9"/>
<line x1="593.58" y1="146.4" x2="593.58" y2="148.3" stroke="#1a1a1a" stroke-width="0.9"/>
<line x1="595.96" y1="146.4" x2="595.96" y2="148.3" stroke="#1a1a1a" stroke-width="0.9"/>
<line x1="597.96" y1="146.4" x2="597.96" y2="148.3" stroke="#1a1a1a" stroke-width="0.9"/>
<line x1="599.7" y1="146.4" x2="599.7" y2="148.3" stroke="#1a1a1a" stroke-width="0.9"/>
<line x1="601.23" y1="146.4" x2="601.23" y2="148.3" stroke="#1a1a1a" stroke-width="0.9"/>
<line x1="602.6" y1="146.4" x2="602.6" y2="149.6" stroke="#1a1a1a" stroke-width="1.1"/>
<text x="602.6" y="159.1" font-size="7.8" font-weight="bold" text-anchor="middle" fill="#1a1a1a" stroke="#1a1a1a" stroke-width="0.2">10</text>
<line x1="611.62" y1="146.4" x2="611.62" y2="148.3" stroke="#1a1a1a" stroke-width="0.9"/>
<line x1="616.89" y1="146.4" x2="616.89" y2="148.3" stroke="#1a1a1a" stroke-width="0.9"/>
<line x1="620.63" y1="146.4" x2="620.63" y2="148.3" stroke="#1a1a1a" stroke-width="0.9"/>
<line x1="623.53" y1="146.4" x2="623.53" y2="148.3" stroke="#1a1a1a" stroke-width="0.9"/>
<line x1="625.91" y1="146.4" x2="625.91" y2="148.3" stroke="#1a1a1a" stroke-width="0.9"/>
<line x1="627.91" y1="146.4" x2="627.91" y2="148.3" stroke="#1a1a1a" stroke-width="0.9"/>
<line x1="629.65" y1="146.4" x2="629.65" y2="148.3" stroke="#1a1a1a" stroke-width="0.9"/>
<line x1="631.18" y1="146.4" x2="631.18" y2="148.3" stroke="#1a1a1a" stroke-width="0.9"/>
<line x1="632.55" y1="146.4" x2="632.55" y2="149.6" stroke="#1a1a1a" stroke-width="1.1"/>
<text x="632.55" y="159.1" font-size="7.8" font-weight="bold" text-anchor="middle" fill="#1a1a1a" stroke="#1a1a1a" stroke-width="0.2">100</text>
<line x1="641.57" y1="146.4" x2="641.57" y2="148.3" stroke="#1a1a1a" stroke-width="0.9"/>
<line x1="646.84" y1="146.4" x2="646.84" y2="148.3" stroke="#1a1a1a" stroke-width="0.9"/>
<line x1="650.58" y1="146.4" x2="650.58" y2="148.3" stroke="#1a1a1a" stroke-width="0.9"/>
<line x1="653.48" y1="146.4" x2="653.48" y2="148.3" stroke="#1a1a1a" stroke-width="0.9"/>
<line x1="655.86" y1="146.4" x2="655.86" y2="148.3" stroke="#1a1a1a" stroke-width="0.9"/>
<line x1="657.86" y1="146.4" x2="657.86" y2="148.3" stroke="#1a1a1a" stroke-width="0.9"/>
<line x1="659.6" y1="146.4" x2="659.6" y2="148.3" stroke="#1a1a1a" stroke-width="0.9"/>
<line x1="661.13" y1="146.4" x2="661.13" y2="148.3" stroke="#1a1a1a" stroke-width="0.9"/>
<line x1="662.5" y1="146.4" x2="662.5" y2="149.6" stroke="#1a1a1a" stroke-width="1.1"/>
<text x="662.5" y="159.1" font-size="7.8" font-weight="bold" text-anchor="middle" fill="#1a1a1a" stroke="#1a1a1a" stroke-width="0.2">1000</text>
<text x="603.2" y="171.4" font-size="8.5" font-weight="bold" text-anchor="middle" fill="#1a1a1a" stroke="#1a1a1a" stroke-width="0.2">[Chemical] ( µM )</text>
<text x="524" y="88.6" font-size="8.3" font-weight="bold" text-anchor="middle" fill="#1a1a1a" stroke="#1a1a1a" stroke-width="0.2" transform="rotate(-90 524 88.6)" dominant-baseline="central">Inhibition (%)</text>
<path d="M602.86 144.19 L603.56 143.95 L604.27 143.67 L604.98 143.37 L605.68 143.03 L606.39 142.66 L607.09 142.24 L607.8 141.79 L608.51 141.28 L609.21 140.72 L609.92 140.11 L610.63 139.43 L611.33 138.68 L612.04 137.86 L612.74 136.96 L613.45 135.98 L614.16 134.9 L614.86 133.73 L615.57 132.45 L616.27 131.06 L616.98 129.56 L617.69 127.94 L618.39 126.19 L619.1 124.32 L619.81 122.32 L620.51 120.19 L621.22 117.92 L621.92 115.53 L622.63 113.02 L623.34 110.39 L624.04 107.65 L624.75 104.81 L625.45 101.88 L626.16 98.88 L626.87 95.82 L627.57 92.73 L628.28 89.61 L628.98 86.48 L629.69 83.37 L630.4 80.29 L631.1 77.26 L631.81 74.3 L632.52 71.41 L633.22 68.62 L633.93 65.93 L634.63 63.36 L635.34 60.91 L636.05 58.58 L636.75 56.38 L637.46 54.31 L638.16 52.37 L638.87 50.56 L639.58 48.88 L640.28 47.32 L640.99 45.88 L641.7 44.54 L642.4 43.32 L643.11 42.19 L643.81 41.16 L644.52 40.22 L645.23 39.36" stroke="#a00000" stroke-width="1.9" fill="none" stroke-linejoin="round" stroke-linecap="round"/>
<circle cx="602.6" cy="143.58" r="1.9" fill="#a00000"/>
<line x1="616.89" y1="123.82" x2="616.89" y2="135.45" stroke="#a00000" stroke-width="1.5"/>
<line x1="614.99" y1="123.82" x2="618.79" y2="123.82" stroke="#a00000" stroke-width="1.5"/>
<line x1="614.99" y1="135.45" x2="618.79" y2="135.45" stroke="#a00000" stroke-width="1.5"/>
<path d="M616.89 131.19 l-1.9 -3 h3.8 Z" fill="#a00000"/>
<line x1="632.55" y1="68.5" x2="632.55" y2="86.56" stroke="#a00000" stroke-width="1.5"/>
<line x1="630.65" y1="68.5" x2="634.45" y2="68.5" stroke="#a00000" stroke-width="1.5"/>
<line x1="630.65" y1="86.56" x2="634.45" y2="86.56" stroke="#a00000" stroke-width="1.5"/>
<path d="M632.55 80.16 l-1.9 -3 h3.8 Z" fill="#a00000"/>
<line x1="641.57" y1="39.15" x2="641.57" y2="44.79" stroke="#a00000" stroke-width="1.5"/>
<line x1="639.67" y1="39.15" x2="643.47" y2="39.15" stroke="#a00000" stroke-width="1.5"/>
<line x1="639.67" y1="44.79" x2="643.47" y2="44.79" stroke="#a00000" stroke-width="1.5"/>
<path d="M641.57 43.34 l-2 -3.2 h4 Z" fill="#a00000"/>
<circle cx="646.84" cy="33.84" r="1.9" fill="#a00000"/>
<line x1="550.3" y1="35.5" x2="564.5" y2="35.5" stroke="#a00000" stroke-width="1.9"/>
<circle cx="557.5" cy="35.5" r="1.8" fill="#a00000"/>
<text x="572.4" y="38.9" font-size="8.6" font-weight="bold" text-anchor="start" fill="#1a1a1a" stroke="#1a1a1a" stroke-width="0.2">C11</text>
<text x="507.8" y="192.2" font-size="13.2" font-weight="bold" text-anchor="start" fill="#2b2b2b" stroke="#2b2b2b" stroke-width="0.2">F</text>
<line x1="544" y1="276.65" x2="662.4" y2="276.65" stroke="#8c8c8c" stroke-width="0.9" stroke-dasharray="1 1.1"/>
<line x1="597.6" y1="214.5" x2="597.6" y2="333.5" stroke="#8c8c8c" stroke-width="0.9" stroke-dasharray="1 1.6"/>
<line x1="628.8" y1="214.5" x2="628.8" y2="333.5" stroke="#8c8c8c" stroke-width="0.9" stroke-dasharray="1 1.6"/>
<line x1="543.3" y1="213.9" x2="543.3" y2="334.1" stroke="#1a1a1a" stroke-width="1.2"/>
<line x1="539.6" y1="219.8" x2="543.3" y2="219.8" stroke="#1a1a1a" stroke-width="1.1"/>
<text x="538.7" y="222.64" font-size="7.9" font-weight="bold" text-anchor="end" fill="#1a1a1a" stroke="#1a1a1a" stroke-width="0.2">100</text>
<line x1="539.6" y1="276.65" x2="543.3" y2="276.65" stroke="#1a1a1a" stroke-width="1.1"/>
<text x="538.7" y="279.49" font-size="7.9" font-weight="bold" text-anchor="end" fill="#1a1a1a" stroke="#1a1a1a" stroke-width="0.2">50</text>
<line x1="539.6" y1="333.5" x2="543.3" y2="333.5" stroke="#1a1a1a" stroke-width="1.1"/>
<text x="538.7" y="336.34" font-size="7.9" font-weight="bold" text-anchor="end" fill="#1a1a1a" stroke="#1a1a1a" stroke-width="0.2">0</text>
<line x1="541.3" y1="248.22" x2="543.3" y2="248.22" stroke="#1a1a1a" stroke-width="1"/>
<line x1="541.3" y1="305.07" x2="543.3" y2="305.07" stroke="#1a1a1a" stroke-width="1"/>
<line x1="542.5" y1="333.5" x2="662.6" y2="333.5" stroke="#1a1a1a" stroke-width="1.3"/>
<line x1="543.1" y1="333.5" x2="543.1" y2="336.7" stroke="#1a1a1a" stroke-width="1.1"/>
<text x="543.1" y="345.8" font-size="7.8" font-weight="bold" text-anchor="middle" fill="#1a1a1a" stroke="#1a1a1a" stroke-width="0.2">0.1</text>
<line x1="552.09" y1="333.5" x2="552.09" y2="335.4" stroke="#1a1a1a" stroke-width="0.9"/>
<line x1="557.35" y1="333.5" x2="557.35" y2="335.4" stroke="#1a1a1a" stroke-width="0.9"/>
<line x1="561.08" y1="333.5" x2="561.08" y2="335.4" stroke="#1a1a1a" stroke-width="0.9"/>
<line x1="563.98" y1="333.5" x2="563.98" y2="335.4" stroke="#1a1a1a" stroke-width="0.9"/>
<line x1="566.34" y1="333.5" x2="566.34" y2="335.4" stroke="#1a1a1a" stroke-width="0.9"/>
<line x1="568.34" y1="333.5" x2="568.34" y2="335.4" stroke="#1a1a1a" stroke-width="0.9"/>
<line x1="570.08" y1="333.5" x2="570.08" y2="335.4" stroke="#1a1a1a" stroke-width="0.9"/>
<line x1="571.6" y1="333.5" x2="571.6" y2="335.4" stroke="#1a1a1a" stroke-width="0.9"/>
<line x1="572.97" y1="333.5" x2="572.97" y2="336.7" stroke="#1a1a1a" stroke-width="1.1"/>
<text x="572.97" y="345.8" font-size="7.8" font-weight="bold" text-anchor="middle" fill="#1a1a1a" stroke="#1a1a1a" stroke-width="0.2">1</text>
<line x1="581.96" y1="333.5" x2="581.96" y2="335.4" stroke="#1a1a1a" stroke-width="0.9"/>
<line x1="587.22" y1="333.5" x2="587.22" y2="335.4" stroke="#1a1a1a" stroke-width="0.9"/>
<line x1="590.95" y1="333.5" x2="590.95" y2="335.4" stroke="#1a1a1a" stroke-width="0.9"/>
<line x1="593.85" y1="333.5" x2="593.85" y2="335.4" stroke="#1a1a1a" stroke-width="0.9"/>
<line x1="596.21" y1="333.5" x2="596.21" y2="335.4" stroke="#1a1a1a" stroke-width="0.9"/>
<line x1="598.21" y1="333.5" x2="598.21" y2="335.4" stroke="#1a1a1a" stroke-width="0.9"/>
<line x1="599.95" y1="333.5" x2="599.95" y2="335.4" stroke="#1a1a1a" stroke-width="0.9"/>
<line x1="601.47" y1="333.5" x2="601.47" y2="335.4" stroke="#1a1a1a" stroke-width="0.9"/>
<line x1="602.84" y1="333.5" x2="602.84" y2="336.7" stroke="#1a1a1a" stroke-width="1.1"/>
<text x="602.84" y="345.8" font-size="7.8" font-weight="bold" text-anchor="middle" fill="#1a1a1a" stroke="#1a1a1a" stroke-width="0.2">10</text>
<line x1="611.83" y1="333.5" x2="611.83" y2="335.4" stroke="#1a1a1a" stroke-width="0.9"/>
<line x1="617.09" y1="333.5" x2="617.09" y2="335.4" stroke="#1a1a1a" stroke-width="0.9"/>
<line x1="620.82" y1="333.5" x2="620.82" y2="335.4" stroke="#1a1a1a" stroke-width="0.9"/>
<line x1="623.72" y1="333.5" x2="623.72" y2="335.4" stroke="#1a1a1a" stroke-width="0.9"/>
<line x1="626.08" y1="333.5" x2="626.08" y2="335.4" stroke="#1a1a1a" stroke-width="0.9"/>
<line x1="628.08" y1="333.5" x2="628.08" y2="335.4" stroke="#1a1a1a" stroke-width="0.9"/>
<line x1="629.82" y1="333.5" x2="629.82" y2="335.4" stroke="#1a1a1a" stroke-width="0.9"/>
<line x1="631.34" y1="333.5" x2="631.34" y2="335.4" stroke="#1a1a1a" stroke-width="0.9"/>
<line x1="632.71" y1="333.5" x2="632.71" y2="336.7" stroke="#1a1a1a" stroke-width="1.1"/>
<text x="632.71" y="345.8" font-size="7.8" font-weight="bold" text-anchor="middle" fill="#1a1a1a" stroke="#1a1a1a" stroke-width="0.2">100</text>
<line x1="641.7" y1="333.5" x2="641.7" y2="335.4" stroke="#1a1a1a" stroke-width="0.9"/>
<line x1="646.96" y1="333.5" x2="646.96" y2="335.4" stroke="#1a1a1a" stroke-width="0.9"/>
<line x1="650.69" y1="333.5" x2="650.69" y2="335.4" stroke="#1a1a1a" stroke-width="0.9"/>
<line x1="653.59" y1="333.5" x2="653.59" y2="335.4" stroke="#1a1a1a" stroke-width="0.9"/>
<line x1="655.95" y1="333.5" x2="655.95" y2="335.4" stroke="#1a1a1a" stroke-width="0.9"/>
<line x1="657.95" y1="333.5" x2="657.95" y2="335.4" stroke="#1a1a1a" stroke-width="0.9"/>
<line x1="659.69" y1="333.5" x2="659.69" y2="335.4" stroke="#1a1a1a" stroke-width="0.9"/>
<line x1="661.21" y1="333.5" x2="661.21" y2="335.4" stroke="#1a1a1a" stroke-width="0.9"/>
<line x1="662.58" y1="333.5" x2="662.58" y2="336.7" stroke="#1a1a1a" stroke-width="1.1"/>
<text x="662.58" y="345.8" font-size="7.8" font-weight="bold" text-anchor="middle" fill="#1a1a1a" stroke="#1a1a1a" stroke-width="0.2">1000</text>
<text x="602.9" y="356.8" font-size="8.4" font-weight="bold" text-anchor="middle" fill="#1a1a1a" stroke="#1a1a1a" stroke-width="0.2">[Chemical] ( µM )</text>
<text x="523.9" y="274.4" font-size="8.3" font-weight="bold" text-anchor="middle" fill="#1a1a1a" stroke="#1a1a1a" stroke-width="0.2" transform="rotate(-90 523.9 274.4)" dominant-baseline="central">Inhibition (%)</text>
<path d="M602.31 331.53 L603.05 331.29 L603.8 331.03 L604.54 330.74 L605.29 330.41 L606.03 330.05 L606.78 329.64 L607.52 329.19 L608.26 328.69 L609.01 328.13 L609.75 327.51 L610.5 326.82 L611.24 326.06 L611.98 325.22 L612.73 324.3 L613.47 323.28 L614.22 322.16 L614.96 320.93 L615.71 319.58 L616.45 318.11 L617.19 316.52 L617.94 314.78 L618.68 312.91 L619.43 310.9 L620.17 308.74 L620.92 306.43 L621.66 303.97 L622.4 301.38 L623.15 298.65 L623.89 295.79 L624.64 292.81 L625.38 289.73 L626.12 286.56 L626.87 283.33 L627.61 280.04 L628.36 276.72 L629.1 273.4 L629.85 270.08 L630.59 266.81 L631.33 263.59 L632.08 260.44 L632.82 257.39 L633.57 254.44 L634.31 251.62 L635.05 248.92 L635.8 246.37 L636.54 243.95 L637.29 241.69 L638.03 239.56 L638.78 237.59 L639.52 235.76 L640.26 234.06 L641.01 232.5 L641.75 231.07 L642.5 229.75 L643.24 228.55 L643.98 227.46 L644.73 226.47 L645.47 225.57 L646.22 224.75 L646.96 224.01" stroke="#b51616" stroke-width="1.9" fill="none" stroke-dasharray="0.01 3.5" stroke-linecap="round"/>
<path d="M543.1 332.64 L544.83 332.6 L546.56 332.55 L548.29 332.49 L550.02 332.42 L551.76 332.33 L553.49 332.21 L555.22 332.07 L556.95 331.9 L558.68 331.7 L560.41 331.44 L562.14 331.13 L563.87 330.75 L565.6 330.29 L567.33 329.72 L569.07 329.03 L570.8 328.2 L572.53 327.19 L574.26 325.98 L575.99 324.52 L577.72 322.78 L579.45 320.72 L581.18 318.29 L582.91 315.47 L584.64 312.2 L586.38 308.48 L588.11 304.29 L589.84 299.65 L591.57 294.6 L593.3 289.19 L595.03 283.52 L596.76 277.69 L598.49 271.82 L600.22 266.04 L601.95 260.47 L603.69 255.21 L605.42 250.33 L607.15 245.88 L608.88 241.89 L610.61 238.37 L612.34 235.3 L614.07 232.66 L615.8 230.39 L617.53 228.48 L619.27 226.87 L621 225.52 L622.73 224.4 L624.46 223.47 L626.19 222.7 L627.92 222.07 L629.65 221.55 L631.38 221.12 L633.11 220.77 L634.84 220.49 L636.58 220.26 L638.31 220.07 L640.04 219.91 L641.77 219.79 L643.5 219.68 L645.23 219.6 L646.96 219.53" stroke="#0a5f0a" stroke-width="2" fill="none" stroke-linejoin="round" stroke-linecap="round"/>
<circle cx="543.1" cy="332.36" r="1.9" fill="#0a5f0a"/>
<circle cx="557.35" cy="329.63" r="1.9" fill="#0a5f0a"/>
<circle cx="572.97" cy="325.54" r="1.9" fill="#0a5f0a"/>
<circle cx="587.22" cy="311.21" r="1.9" fill="#0a5f0a"/>
<circle cx="602.84" cy="259.6" r="1.9" fill="#0a5f0a"/>
<circle cx="617.09" cy="233.44" r="1.9" fill="#0a5f0a"/>
<circle cx="632.71" cy="220.94" r="1.9" fill="#0a5f0a"/>
<circle cx="641.7" cy="219.8" r="1.9" fill="#0a5f0a"/>
<circle cx="646.96" cy="219.8" r="1.9" fill="#0a5f0a"/>
<line x1="572.97" y1="322.7" x2="572.97" y2="327.81" stroke="#0a5f0a" stroke-width="1.5"/>
<line x1="571.07" y1="322.7" x2="574.87" y2="322.7" stroke="#0a5f0a" stroke-width="1.5"/>
<line x1="571.07" y1="327.81" x2="574.87" y2="327.81" stroke="#0a5f0a" stroke-width="1.5"/>
<line x1="602.84" y1="255.05" x2="602.84" y2="263.01" stroke="#0a5f0a" stroke-width="1.5"/>
<line x1="600.94" y1="255.05" x2="604.74" y2="255.05" stroke="#0a5f0a" stroke-width="1.5"/>
<line x1="600.94" y1="263.01" x2="604.74" y2="263.01" stroke="#0a5f0a" stroke-width="1.5"/>
<line x1="549.2" y1="218" x2="563.8" y2="218" stroke="#0a5f0a" stroke-width="1.9"/>
<circle cx="556.2" cy="218" r="1.8" fill="#0a5f0a"/>
<text x="571.7" y="221.7" font-size="8.6" font-weight="bold" text-anchor="start" fill="#1a1a1a" stroke="#1a1a1a" stroke-width="0.2">C2.2</text>
<line x1="549.6" y1="233" x2="563.2" y2="233" stroke="#b51616" stroke-width="1.9" stroke-dasharray="0.01 3.5" stroke-linecap="round"/>
<text x="571.7" y="236.4" font-size="8.6" font-weight="bold" text-anchor="start" fill="#1a1a1a" stroke="#1a1a1a" stroke-width="0.2">C11</text>
<text x="-0.8" y="372.7" font-size="13.2" font-weight="bold" text-anchor="start" fill="#2b2b2b" stroke="#2b2b2b" stroke-width="0.2">G</text>
<line x1="40.5" y1="437.2" x2="102.8" y2="437.2" stroke="#8c8c8c" stroke-width="0.9" stroke-dasharray="1 1.1"/>
<rect x="41.2" y="387.02" width="5.8" height="101.38" fill="#d4d4d4"/>
<rect x="50.3" y="463.82" width="5.8" height="24.58" fill="#d4d4d4"/>
<rect x="59.1" y="486.86" width="5.8" height="1.54" fill="#d4d4d4"/>
<rect x="77.9" y="387.02" width="5.8" height="101.38" fill="#d4d4d4"/>
<rect x="86.7" y="487.38" width="5.8" height="1.02" fill="#d4d4d4"/>
<rect x="96.3" y="487.38" width="5.8" height="1.02" fill="#d4d4d4"/>
<circle cx="42.8" cy="385.49" r="1.7" fill="#2a2a2a"/>
<circle cx="45.5" cy="386.51" r="1.7" fill="#2a2a2a"/>
<circle cx="42.8" cy="387.54" r="1.7" fill="#2a2a2a"/>
<circle cx="45.5" cy="388.56" r="1.7" fill="#2a2a2a"/>
<circle cx="51.6" cy="460.24" r="1.7" fill="#2a2a2a"/>
<circle cx="54.8" cy="460.24" r="1.7" fill="#2a2a2a"/>
<circle cx="53.2" cy="470.99" r="1.7" fill="#2a2a2a"/>
<circle cx="60.4" cy="482.77" r="1.7" fill="#2a2a2a"/>
<circle cx="63.6" cy="483.79" r="1.7" fill="#2a2a2a"/>
<circle cx="62" cy="486.35" r="1.7" fill="#2a2a2a"/>
<circle cx="79.3" cy="386.2" r="1.7" fill="#2a2a2a"/>
<circle cx="80.8" cy="386.82" r="1.7" fill="#2a2a2a"/>
<circle cx="82.3" cy="387.54" r="1.7" fill="#2a2a2a"/>
<circle cx="88.4" cy="486.35" r="1.7" fill="#2a2a2a"/>
<circle cx="89.6" cy="487.17" r="1.7" fill="#2a2a2a"/>
<circle cx="90.8" cy="487.58" r="1.7" fill="#2a2a2a"/>
<circle cx="97.8" cy="486.86" r="1.7" fill="#2a2a2a"/>
<circle cx="99.2" cy="487.17" r="1.7" fill="#2a2a2a"/>
<circle cx="100.6" cy="487.38" r="1.7" fill="#2a2a2a"/>
<line x1="39.6" y1="380.4" x2="39.6" y2="489" stroke="#1a1a1a" stroke-width="1.3"/>
<line x1="35" y1="488.4" x2="103.8" y2="488.4" stroke="#1a1a1a" stroke-width="1.3"/>
<line x1="34.4" y1="386" x2="39.6" y2="386" stroke="#1a1a1a" stroke-width="1.1"/>
<text x="33.4" y="388.9" font-size="8" text-anchor="end" fill="#1a1a1a" stroke="#1a1a1a" stroke-width="0.3">100</text>
<line x1="34.4" y1="437.2" x2="39.6" y2="437.2" stroke="#1a1a1a" stroke-width="1.1"/>
<text x="33.4" y="440.1" font-size="8" text-anchor="end" fill="#1a1a1a" stroke="#1a1a1a" stroke-width="0.3">50</text>
<line x1="34.4" y1="488.4" x2="39.6" y2="488.4" stroke="#1a1a1a" stroke-width="1.1"/>
<text x="33.4" y="491.3" font-size="8" text-anchor="end" fill="#1a1a1a" stroke="#1a1a1a" stroke-width="0.3">0</text>
<line x1="36.6" y1="411.6" x2="39.6" y2="411.6" stroke="#1a1a1a" stroke-width="1"/>
<line x1="36.6" y1="462.8" x2="39.6" y2="462.8" stroke="#1a1a1a" stroke-width="1"/>
<line x1="44.1" y1="488.4" x2="44.1" y2="492.8" stroke="#1a1a1a" stroke-width="1"/>
<line x1="53.2" y1="488.4" x2="53.2" y2="492.8" stroke="#1a1a1a" stroke-width="1"/>
<line x1="62" y1="488.4" x2="62" y2="492.8" stroke="#1a1a1a" stroke-width="1"/>
<line x1="80.8" y1="488.4" x2="80.8" y2="492.8" stroke="#1a1a1a" stroke-width="1"/>
<line x1="89.6" y1="488.4" x2="89.6" y2="492.8" stroke="#1a1a1a" stroke-width="1"/>
<line x1="99.2" y1="488.4" x2="99.2" y2="492.8" stroke="#1a1a1a" stroke-width="1"/>
<text x="20.9" y="436.2" font-size="8.4" text-anchor="middle" fill="#1a1a1a" stroke="#1a1a1a" stroke-width="0.3" transform="rotate(-90 20.9 436.2)" dominant-baseline="central">Inhibition (%)</text>
<text x="46.3" y="498.6" font-size="6.9" font-weight="bold" text-anchor="end" fill="#222" stroke="#222" stroke-width="0.2" transform="rotate(-45 46.3 498.6)">DrO1</text>
<text x="55.4" y="498.6" font-size="6.9" font-weight="bold" text-anchor="end" fill="#222" stroke="#222" stroke-width="0.2" transform="rotate(-45 55.4 498.6)">hO1</text>
<text x="64.2" y="498.6" font-size="6.9" font-weight="bold" text-anchor="end" fill="#222" stroke="#222" stroke-width="0.2" transform="rotate(-45 64.2 498.6)">mO1</text>
<text x="83" y="498.6" font-size="6.9" font-weight="bold" text-anchor="end" fill="#222" stroke="#222" stroke-width="0.2" transform="rotate(-45 83 498.6)">DrO1</text>
<text x="91.8" y="498.6" font-size="6.9" font-weight="bold" text-anchor="end" fill="#222" stroke="#222" stroke-width="0.2" transform="rotate(-45 91.8 498.6)">hO1</text>
<text x="101.4" y="498.6" font-size="6.9" font-weight="bold" text-anchor="end" fill="#222" stroke="#222" stroke-width="0.2" transform="rotate(-45 101.4 498.6)">mO1</text>
<text x="42.2" y="525.2" font-size="9" text-anchor="middle" fill="#222" stroke="#222" stroke-width="0.3">[C11]</text>
<text x="42.7" y="534.6" font-size="9" text-anchor="middle" fill="#222" stroke="#222" stroke-width="0.3">(300 µM)</text>
<text x="85.3" y="525.2" font-size="9" text-anchor="middle" fill="#222" stroke="#222" stroke-width="0.3">[C2.2]</text>
<text x="85.8" y="534.6" font-size="9" text-anchor="middle" fill="#222" stroke="#222" stroke-width="0.3">(100 µM)</text>
<text x="113.4" y="372.6" font-size="13.2" font-weight="bold" text-anchor="start" fill="#2b2b2b" stroke="#2b2b2b" stroke-width="0.2">H</text>
<line x1="137" y1="449.15" x2="228.6" y2="449.15" stroke="#8c8c8c" stroke-width="0.9" stroke-dasharray="1 1.1"/>
<line x1="136" y1="384.3" x2="136" y2="512.3" stroke="#5e5e5e" stroke-width="1.5"/>
<line x1="132.4" y1="390.5" x2="136" y2="390.5" stroke="#5e5e5e" stroke-width="1.1"/>
<text x="130.9" y="393.13" font-size="7.3" font-weight="bold" text-anchor="end" fill="#1a1a1a" stroke="#1a1a1a" stroke-width="0.2">100</text>
<line x1="132.4" y1="449.15" x2="136" y2="449.15" stroke="#5e5e5e" stroke-width="1.1"/>
<text x="130.9" y="451.78" font-size="7.3" font-weight="bold" text-anchor="end" fill="#1a1a1a" stroke="#1a1a1a" stroke-width="0.2">50</text>
<line x1="132.4" y1="507.8" x2="136" y2="507.8" stroke="#5e5e5e" stroke-width="1.1"/>
<text x="130.9" y="510.43" font-size="7.3" font-weight="bold" text-anchor="end" fill="#1a1a1a" stroke="#1a1a1a" stroke-width="0.2">0</text>
<line x1="134" y1="419.82" x2="136" y2="419.82" stroke="#5e5e5e" stroke-width="1"/>
<line x1="134" y1="478.48" x2="136" y2="478.48" stroke="#5e5e5e" stroke-width="1"/>
<line x1="131.5" y1="507.8" x2="228" y2="507.8" stroke="#5e5e5e" stroke-width="1.5"/>
<line x1="136" y1="507.8" x2="136" y2="512.3" stroke="#5e5e5e" stroke-width="1.1"/>
<text x="136" y="521" font-size="7.3" font-weight="bold" text-anchor="middle" fill="#1a1a1a" stroke="#1a1a1a" stroke-width="0.2">1</text>
<line x1="150.63" y1="507.8" x2="150.63" y2="510.4" stroke="#5e5e5e" stroke-width="0.9"/>
<line x1="157.44" y1="507.8" x2="157.44" y2="510.4" stroke="#5e5e5e" stroke-width="0.9"/>
<line x1="161.92" y1="507.8" x2="161.92" y2="510.4" stroke="#5e5e5e" stroke-width="0.9"/>
<line x1="165.27" y1="507.8" x2="165.27" y2="510.4" stroke="#5e5e5e" stroke-width="0.9"/>
<line x1="166.67" y1="507.8" x2="166.67" y2="512.3" stroke="#5e5e5e" stroke-width="1.1"/>
<text x="166.67" y="521" font-size="7.3" font-weight="bold" text-anchor="middle" fill="#1a1a1a" stroke="#1a1a1a" stroke-width="0.2">10</text>
<line x1="181.3" y1="507.8" x2="181.3" y2="510.4" stroke="#5e5e5e" stroke-width="0.9"/>
<line x1="188.11" y1="507.8" x2="188.11" y2="510.4" stroke="#5e5e5e" stroke-width="0.9"/>
<line x1="192.59" y1="507.8" x2="192.59" y2="510.4" stroke="#5e5e5e" stroke-width="0.9"/>
<line x1="195.94" y1="507.8" x2="195.94" y2="510.4" stroke="#5e5e5e" stroke-width="0.9"/>
<line x1="197.34" y1="507.8" x2="197.34" y2="512.3" stroke="#5e5e5e" stroke-width="1.1"/>
<text x="197.34" y="521" font-size="7.3" font-weight="bold" text-anchor="middle" fill="#1a1a1a" stroke="#1a1a1a" stroke-width="0.2">100</text>
<line x1="211.97" y1="507.8" x2="211.97" y2="510.4" stroke="#5e5e5e" stroke-width="0.9"/>
<line x1="218.78" y1="507.8" x2="218.78" y2="510.4" stroke="#5e5e5e" stroke-width="0.9"/>
<line x1="223.26" y1="507.8" x2="223.26" y2="510.4" stroke="#5e5e5e" stroke-width="0.9"/>
<line x1="226.61" y1="507.8" x2="226.61" y2="510.4" stroke="#5e5e5e" stroke-width="0.9"/>
<line x1="228.01" y1="507.8" x2="228.01" y2="512.3" stroke="#5e5e5e" stroke-width="1.1"/>
<text x="228.01" y="521" font-size="7.3" font-weight="bold" text-anchor="middle" fill="#1a1a1a" stroke="#1a1a1a" stroke-width="0.2">1000</text>
<text x="182.1" y="531" font-size="7.8" font-weight="bold" text-anchor="middle" fill="#1a1a1a" stroke="#1a1a1a" stroke-width="0.2">[C11], ( µM )</text>
<text x="117.4" y="447.5" font-size="7.75" font-weight="bold" text-anchor="middle" fill="#1a1a1a" stroke="#1a1a1a" stroke-width="0.2" transform="rotate(-90 117.4 447.5)" dominant-baseline="central">Inhibition (%)</text>
<path d="M166.67 504.58 L167.43 504.25 L168.18 503.88 L168.94 503.47 L169.69 503.03 L170.45 502.54 L171.2 502 L171.96 501.41 L172.71 500.77 L173.47 500.06 L174.22 499.29 L174.98 498.45 L175.73 497.53 L176.49 496.53 L177.24 495.45 L178 494.28 L178.75 493.01 L179.51 491.64 L180.26 490.16 L181.02 488.58 L181.77 486.88 L182.53 485.07 L183.28 483.14 L184.04 481.09 L184.79 478.93 L185.55 476.65 L186.3 474.26 L187.06 471.77 L187.81 469.17 L188.57 466.48 L189.32 463.71 L190.08 460.87 L190.83 457.97 L191.59 455.03 L192.34 452.05 L193.1 449.06 L193.85 446.07 L194.61 443.1 L195.36 440.16 L196.12 437.26 L196.87 434.42 L197.63 431.66 L198.38 428.97 L199.14 426.38 L199.89 423.89 L200.65 421.51 L201.4 419.24 L202.16 417.08 L202.91 415.05 L203.67 413.12 L204.42 411.32 L205.18 409.63 L205.93 408.05 L206.69 406.58 L207.44 405.22 L208.2 403.95 L208.95 402.78 L209.71 401.71 L210.46 400.71 L211.22 399.8 L211.97 398.97" stroke="#a8155e" stroke-width="2" fill="none" stroke-linecap="round"/>
<circle cx="166.67" cy="502.76" r="1.8" fill="#a8155e"/>
<circle cx="181.3" cy="487.86" r="1.8" fill="#a8155e"/>
<circle cx="197.34" cy="432.73" r="1.8" fill="#a8155e"/>
<circle cx="206.57" cy="409.27" r="1.8" fill="#a8155e"/>
<circle cx="211.97" cy="392.85" r="1.8" fill="#a8155e"/>
<path d="M166.67 502.03 L167.43 501.54 L168.18 501.02 L168.94 500.45 L169.69 499.85 L170.45 499.19 L171.2 498.49 L171.96 497.73 L172.71 496.92 L173.47 496.06 L174.22 495.13 L174.98 494.13 L175.73 493.07 L176.49 491.94 L177.24 490.74 L178 489.46 L178.75 488.11 L179.51 486.67 L180.26 485.16 L181.02 483.57 L181.77 481.89 L182.53 480.13 L183.28 478.3 L184.04 476.38 L184.79 474.38 L185.55 472.32 L186.3 470.18 L187.06 467.97 L187.81 465.7 L188.57 463.38 L189.32 461.01 L190.08 458.6 L190.83 456.16 L191.59 453.69 L192.34 451.2 L193.1 448.71 L193.85 446.22 L194.61 443.74 L195.36 441.28 L196.12 438.85 L196.87 436.45 L197.63 434.1 L198.38 431.79 L199.14 429.55 L199.89 427.36 L200.65 425.25 L201.4 423.21 L202.16 421.24 L202.91 419.35 L203.67 417.54 L204.42 415.81 L205.18 414.17 L205.93 412.6 L206.69 411.11 L207.44 409.71 L208.2 408.38 L208.95 407.13 L209.71 405.95 L210.46 404.85 L211.22 403.81 L211.97 402.84" stroke="#1b8aa0" stroke-width="2.3" fill="none" stroke-linecap="round"/>
<line x1="166.67" y1="498.53" x2="166.67" y2="502.05" stroke="#1b8aa0" stroke-width="1.2"/>
<line x1="165.07" y1="498.53" x2="168.27" y2="498.53" stroke="#1b8aa0" stroke-width="1.2"/>
<line x1="165.07" y1="502.05" x2="168.27" y2="502.05" stroke="#1b8aa0" stroke-width="1.2"/>
<path d="M166.67 501.99 l-2.1 -3.4 h4.2 Z" fill="#1b8aa0"/>
<line x1="181.3" y1="477.3" x2="181.3" y2="484.34" stroke="#1b8aa0" stroke-width="1.2"/>
<line x1="179.7" y1="477.3" x2="182.9" y2="477.3" stroke="#1b8aa0" stroke-width="1.2"/>
<line x1="179.7" y1="484.34" x2="182.9" y2="484.34" stroke="#1b8aa0" stroke-width="1.2"/>
<path d="M181.3 482.52 l-2.1 -3.4 h4.2 Z" fill="#1b8aa0"/>
<line x1="197.34" y1="432.73" x2="197.34" y2="442.11" stroke="#1b8aa0" stroke-width="1.2"/>
<line x1="195.74" y1="432.73" x2="198.94" y2="432.73" stroke="#1b8aa0" stroke-width="1.2"/>
<line x1="195.74" y1="442.11" x2="198.94" y2="442.11" stroke="#1b8aa0" stroke-width="1.2"/>
<path d="M197.34 439.12 l-2.1 -3.4 h4.2 Z" fill="#1b8aa0"/>
<line x1="206.57" y1="401.06" x2="206.57" y2="408.1" stroke="#1b8aa0" stroke-width="1.2"/>
<line x1="204.97" y1="401.06" x2="208.17" y2="401.06" stroke="#1b8aa0" stroke-width="1.2"/>
<line x1="204.97" y1="408.1" x2="208.17" y2="408.1" stroke="#1b8aa0" stroke-width="1.2"/>
<path d="M206.57 406.28 l-2.1 -3.4 h4.2 Z" fill="#1b8aa0"/>
<line x1="211.97" y1="387.45" x2="211.97" y2="392.14" stroke="#1b8aa0" stroke-width="1.2"/>
<line x1="210.37" y1="387.45" x2="213.57" y2="387.45" stroke="#1b8aa0" stroke-width="1.2"/>
<line x1="210.37" y1="392.14" x2="213.57" y2="392.14" stroke="#1b8aa0" stroke-width="1.2"/>
<path d="M211.97 391.5 l-2.1 -3.4 h4.2 Z" fill="#1b8aa0"/>
<path d="M166.67 505.75 L167.43 505.51 L168.18 505.24 L168.94 504.94 L169.69 504.61 L170.45 504.24 L171.2 503.82 L171.96 503.36 L172.71 502.85 L173.47 502.29 L174.22 501.66 L174.98 500.97 L175.73 500.2 L176.49 499.35 L177.24 498.42 L178 497.39 L178.75 496.27 L179.51 495.03 L180.26 493.68 L181.02 492.21 L181.77 490.62 L182.53 488.89 L183.28 487.02 L184.04 485.01 L184.79 482.85 L185.55 480.55 L186.3 478.11 L187.06 475.53 L187.81 472.81 L188.57 469.96 L189.32 467 L190.08 463.93 L190.83 460.78 L191.59 457.55 L192.34 454.27 L193.1 450.96 L193.85 447.64 L194.61 444.32 L195.36 441.04 L196.12 437.81 L196.87 434.64 L197.63 431.57 L198.38 428.6 L199.14 425.74 L199.89 423.01 L200.65 420.41 L201.4 417.96 L202.16 415.65 L202.91 413.48 L203.67 411.46 L204.42 409.58 L205.18 407.83 L205.93 406.22 L206.69 404.74 L207.44 403.38 L208.2 402.14 L208.95 401 L209.71 399.97 L210.46 399.03 L211.22 398.17 L211.97 397.4" stroke="#111" stroke-width="1.6" fill="none" stroke-dasharray="0.01 3.0" stroke-linecap="round"/>
<line x1="208.3" y1="463.7" x2="222" y2="463.7" stroke="#1b8aa0" stroke-width="1.9"/>
<circle cx="215.15" cy="463.7" r="1.8" fill="#1b8aa0"/>
<text x="228.6" y="466.4" font-size="7.6" font-weight="bold" text-anchor="start" fill="#1a1a1a" stroke="#1a1a1a" stroke-width="0.2">6.0</text>
<line x1="209.1" y1="478.9" x2="222" y2="478.9" stroke="#111" stroke-width="1.6" stroke-dasharray="0.01 3.4" stroke-linecap="round"/>
<text x="228.6" y="481.6" font-size="7.6" font-weight="bold" text-anchor="start" fill="#1a1a1a" stroke="#1a1a1a" stroke-width="0.2">5.5</text>
<line x1="208.3" y1="493.5" x2="222" y2="493.5" stroke="#a8155e" stroke-width="1.9"/>
<circle cx="215.15" cy="493.5" r="1.8" fill="#a8155e"/>
<text x="228.6" y="496.2" font-size="7.6" font-weight="bold" text-anchor="start" fill="#1a1a1a" stroke="#1a1a1a" stroke-width="0.2">5.0</text>
<text x="228.2" y="372.6" font-size="13.2" font-weight="bold" text-anchor="start" fill="#2b2b2b" stroke="#2b2b2b" stroke-width="0.2">I</text>
<line x1="266.5" y1="447.35" x2="357.6" y2="447.35" stroke="#8c8c8c" stroke-width="0.9" stroke-dasharray="1 1.1"/>
<line x1="265.2" y1="381.8" x2="265.2" y2="510.7" stroke="#5e5e5e" stroke-width="1.5"/>
<line x1="261.6" y1="388.5" x2="265.2" y2="388.5" stroke="#5e5e5e" stroke-width="1.1"/>
<text x="260.3" y="391.13" font-size="7.3" font-weight="bold" text-anchor="end" fill="#1a1a1a" stroke="#1a1a1a" stroke-width="0.2">100</text>
<line x1="261.6" y1="447.35" x2="265.2" y2="447.35" stroke="#5e5e5e" stroke-width="1.1"/>
<text x="260.3" y="449.98" font-size="7.3" font-weight="bold" text-anchor="end" fill="#1a1a1a" stroke="#1a1a1a" stroke-width="0.2">50</text>
<line x1="261.6" y1="506.2" x2="265.2" y2="506.2" stroke="#5e5e5e" stroke-width="1.1"/>
<text x="260.3" y="508.83" font-size="7.3" font-weight="bold" text-anchor="end" fill="#1a1a1a" stroke="#1a1a1a" stroke-width="0.2">0</text>
<line x1="263.2" y1="417.92" x2="265.2" y2="417.92" stroke="#5e5e5e" stroke-width="1"/>
<line x1="263.2" y1="476.77" x2="265.2" y2="476.77" stroke="#5e5e5e" stroke-width="1"/>
<line x1="261" y1="506.2" x2="357.6" y2="506.2" stroke="#5e5e5e" stroke-width="1.5"/>
<line x1="265.9" y1="506.2" x2="265.9" y2="510.7" stroke="#5e5e5e" stroke-width="1.1"/>
<text x="265.9" y="519" font-size="7.3" font-weight="bold" text-anchor="middle" fill="#1a1a1a" stroke="#1a1a1a" stroke-width="0.2">0.1</text>
<line x1="276.84" y1="506.2" x2="276.84" y2="508.8" stroke="#5e5e5e" stroke-width="0.9"/>
<line x1="281.93" y1="506.2" x2="281.93" y2="508.8" stroke="#5e5e5e" stroke-width="0.9"/>
<line x1="285.28" y1="506.2" x2="285.28" y2="508.8" stroke="#5e5e5e" stroke-width="0.9"/>
<line x1="287.78" y1="506.2" x2="287.78" y2="508.8" stroke="#5e5e5e" stroke-width="0.9"/>
<line x1="288.83" y1="506.2" x2="288.83" y2="510.7" stroke="#5e5e5e" stroke-width="1.1"/>
<text x="288.83" y="519" font-size="7.3" font-weight="bold" text-anchor="middle" fill="#1a1a1a" stroke="#1a1a1a" stroke-width="0.2">1</text>
<line x1="299.77" y1="506.2" x2="299.77" y2="508.8" stroke="#5e5e5e" stroke-width="0.9"/>
<line x1="304.86" y1="506.2" x2="304.86" y2="508.8" stroke="#5e5e5e" stroke-width="0.9"/>
<line x1="308.21" y1="506.2" x2="308.21" y2="508.8" stroke="#5e5e5e" stroke-width="0.9"/>
<line x1="310.71" y1="506.2" x2="310.71" y2="508.8" stroke="#5e5e5e" stroke-width="0.9"/>
<line x1="311.76" y1="506.2" x2="311.76" y2="510.7" stroke="#5e5e5e" stroke-width="1.1"/>
<text x="311.76" y="519" font-size="7.3" font-weight="bold" text-anchor="middle" fill="#1a1a1a" stroke="#1a1a1a" stroke-width="0.2">10</text>
<line x1="322.7" y1="506.2" x2="322.7" y2="508.8" stroke="#5e5e5e" stroke-width="0.9"/>
<line x1="327.79" y1="506.2" x2="327.79" y2="508.8" stroke="#5e5e5e" stroke-width="0.9"/>
<line x1="331.14" y1="506.2" x2="331.14" y2="508.8" stroke="#5e5e5e" stroke-width="0.9"/>
<line x1="333.64" y1="506.2" x2="333.64" y2="508.8" stroke="#5e5e5e" stroke-width="0.9"/>
<line x1="334.69" y1="506.2" x2="334.69" y2="510.7" stroke="#5e5e5e" stroke-width="1.1"/>
<text x="334.69" y="519" font-size="7.3" font-weight="bold" text-anchor="middle" fill="#1a1a1a" stroke="#1a1a1a" stroke-width="0.2">100</text>
<line x1="345.63" y1="506.2" x2="345.63" y2="508.8" stroke="#5e5e5e" stroke-width="0.9"/>
<line x1="350.72" y1="506.2" x2="350.72" y2="508.8" stroke="#5e5e5e" stroke-width="0.9"/>
<line x1="354.07" y1="506.2" x2="354.07" y2="508.8" stroke="#5e5e5e" stroke-width="0.9"/>
<line x1="356.57" y1="506.2" x2="356.57" y2="508.8" stroke="#5e5e5e" stroke-width="0.9"/>
<line x1="357.62" y1="506.2" x2="357.62" y2="510.7" stroke="#5e5e5e" stroke-width="1.1"/>
<text x="357.62" y="519" font-size="7.3" font-weight="bold" text-anchor="middle" fill="#1a1a1a" stroke="#1a1a1a" stroke-width="0.2">1000</text>
<text x="311.7" y="529.6" font-size="7.7" font-weight="bold" text-anchor="middle" fill="#1a1a1a" stroke="#1a1a1a" stroke-width="0.2">[C2.2], ( µM )</text>
<text x="247.6" y="445.5" font-size="7.85" font-weight="bold" text-anchor="middle" fill="#1a1a1a" stroke="#1a1a1a" stroke-width="0.2" transform="rotate(-90 247.6 445.5)" dominant-baseline="central">Inhibition (%)</text>
<path d="M288.83 503.36 L289.59 503.03 L290.36 502.67 L291.12 502.26 L291.89 501.81 L292.65 501.31 L293.42 500.76 L294.18 500.15 L294.94 499.47 L295.71 498.72 L296.47 497.9 L297.24 496.99 L298 495.99 L298.77 494.9 L299.53 493.7 L300.29 492.39 L301.06 490.97 L301.82 489.42 L302.59 487.74 L303.35 485.93 L304.12 483.98 L304.88 481.89 L305.65 479.66 L306.41 477.28 L307.17 474.77 L307.94 472.12 L308.7 469.35 L309.47 466.45 L310.23 463.45 L311 460.36 L311.76 457.19 L312.52 453.95 L313.29 450.68 L314.05 447.39 L314.82 444.09 L315.58 440.82 L316.35 437.59 L317.11 434.41 L317.87 431.32 L318.64 428.31 L319.4 425.42 L320.17 422.64 L320.93 419.99 L321.7 417.47 L322.46 415.09 L323.22 412.86 L323.99 410.76 L324.75 408.81 L325.52 407 L326.28 405.32 L327.05 403.76 L327.81 402.34 L328.58 401.03 L329.34 399.83 L330.1 398.73 L330.87 397.73 L331.63 396.82 L332.4 395.99 L333.16 395.25 L333.93 394.57 L334.69 393.95" stroke="#a8155e" stroke-width="2.1" fill="none" stroke-linecap="round"/>
<circle cx="288.83" cy="501.26" r="1.8" fill="#a8155e"/>
<line x1="299.77" y1="490.31" x2="299.77" y2="496.2" stroke="#a8155e" stroke-width="1.2"/>
<line x1="298.17" y1="490.31" x2="301.37" y2="490.31" stroke="#a8155e" stroke-width="1.2"/>
<line x1="298.17" y1="496.2" x2="301.37" y2="496.2" stroke="#a8155e" stroke-width="1.2"/>
<circle cx="299.77" cy="493.25" r="1.8" fill="#a8155e"/>
<line x1="311.76" y1="454.41" x2="311.76" y2="463.83" stroke="#a8155e" stroke-width="1.2"/>
<line x1="310.16" y1="454.41" x2="313.36" y2="454.41" stroke="#a8155e" stroke-width="1.2"/>
<line x1="310.16" y1="463.83" x2="313.36" y2="463.83" stroke="#a8155e" stroke-width="1.2"/>
<circle cx="311.76" cy="459.12" r="1.8" fill="#a8155e"/>
<circle cx="322.7" cy="414.39" r="1.8" fill="#a8155e"/>
<circle cx="334.69" cy="389.68" r="1.8" fill="#a8155e"/>
<path d="M288.83 490.55 L289.59 489.37 L290.36 488.12 L291.12 486.79 L291.89 485.38 L292.65 483.89 L293.42 482.33 L294.18 480.68 L294.94 478.95 L295.71 477.14 L296.47 475.26 L297.24 473.29 L298 471.25 L298.77 469.15 L299.53 466.97 L300.29 464.73 L301.06 462.44 L301.82 460.09 L302.59 457.7 L303.35 455.28 L304.12 452.83 L304.88 450.36 L305.65 447.87 L306.41 445.39 L307.17 442.91 L307.94 440.45 L308.7 438.02 L309.47 435.61 L310.23 433.25 L311 430.93 L311.76 428.67 L312.52 426.46 L313.29 424.33 L314.05 422.26 L314.82 420.26 L315.58 418.34 L316.35 416.5 L317.11 414.74 L317.87 413.06 L318.64 411.46 L319.4 409.94 L320.17 408.5 L320.93 407.13 L321.7 405.85 L322.46 404.64 L323.22 403.5 L323.99 402.43 L324.75 401.42 L325.52 400.48 L326.28 399.6 L327.05 398.78 L327.81 398.02 L328.58 397.31 L329.34 396.64 L330.1 396.02 L330.87 395.45 L331.63 394.92 L332.4 394.43 L333.16 393.97 L333.93 393.54 L334.69 393.15" stroke="#1b8aa0" stroke-width="2.2" fill="none" stroke-linecap="round"/>
<line x1="288.83" y1="487.01" x2="288.83" y2="494.08" stroke="#1b8aa0" stroke-width="1.2"/>
<line x1="287.23" y1="487.01" x2="290.43" y2="487.01" stroke="#1b8aa0" stroke-width="1.2"/>
<line x1="287.23" y1="494.08" x2="290.43" y2="494.08" stroke="#1b8aa0" stroke-width="1.2"/>
<path d="M288.83 492.25 l-2.1 -3.4 h4.2 Z" fill="#1b8aa0"/>
<line x1="299.77" y1="467.48" x2="299.77" y2="476.89" stroke="#1b8aa0" stroke-width="1.2"/>
<line x1="298.17" y1="467.48" x2="301.37" y2="467.48" stroke="#1b8aa0" stroke-width="1.2"/>
<line x1="298.17" y1="476.89" x2="301.37" y2="476.89" stroke="#1b8aa0" stroke-width="1.2"/>
<path d="M299.77 473.88 l-2.1 -3.4 h4.2 Z" fill="#1b8aa0"/>
<line x1="311.76" y1="424.99" x2="311.76" y2="432.05" stroke="#1b8aa0" stroke-width="1.2"/>
<line x1="310.16" y1="424.99" x2="313.36" y2="424.99" stroke="#1b8aa0" stroke-width="1.2"/>
<line x1="310.16" y1="432.05" x2="313.36" y2="432.05" stroke="#1b8aa0" stroke-width="1.2"/>
<path d="M311.76 430.22 l-2.1 -3.4 h4.2 Z" fill="#1b8aa0"/>
<line x1="322.7" y1="401.45" x2="322.7" y2="406.15" stroke="#1b8aa0" stroke-width="1.2"/>
<line x1="321.1" y1="401.45" x2="324.3" y2="401.45" stroke="#1b8aa0" stroke-width="1.2"/>
<line x1="321.1" y1="406.15" x2="324.3" y2="406.15" stroke="#1b8aa0" stroke-width="1.2"/>
<path d="M322.7 405.5 l-2.1 -3.4 h4.2 Z" fill="#1b8aa0"/>
<line x1="334.69" y1="386.73" x2="334.69" y2="390.27" stroke="#1b8aa0" stroke-width="1.2"/>
<line x1="333.09" y1="386.73" x2="336.29" y2="386.73" stroke="#1b8aa0" stroke-width="1.2"/>
<line x1="333.09" y1="390.27" x2="336.29" y2="390.27" stroke="#1b8aa0" stroke-width="1.2"/>
<path d="M334.69 390.2 l-2.1 -3.4 h4.2 Z" fill="#1b8aa0"/>
<path d="M288.83 499.5 L289.59 498.74 L290.36 497.89 L291.12 496.96 L291.89 495.93 L292.65 494.79 L293.42 493.55 L294.18 492.19 L294.94 490.71 L295.71 489.09 L296.47 487.34 L297.24 485.44 L298 483.4 L298.77 481.21 L299.53 478.87 L300.29 476.38 L301.06 473.74 L301.82 470.97 L302.59 468.06 L303.35 465.04 L304.12 461.9 L304.88 458.68 L305.65 455.39 L306.41 452.04 L307.17 448.66 L307.94 445.28 L308.7 441.9 L309.47 438.57 L310.23 435.29 L311 432.08 L311.76 428.97 L312.52 425.97 L313.29 423.09 L314.05 420.35 L314.82 417.75 L315.58 415.29 L316.35 412.98 L317.11 410.83 L317.87 408.82 L318.64 406.95 L319.4 405.23 L320.17 403.65 L320.93 402.19 L321.7 400.86 L322.46 399.64 L323.22 398.53 L323.99 397.53 L324.75 396.61 L325.52 395.78 L326.28 395.04 L327.05 394.36 L327.81 393.75 L328.58 393.2 L329.34 392.71 L330.1 392.27 L330.87 391.87 L331.63 391.51 L332.4 391.19 L333.16 390.91 L333.93 390.65 L334.69 390.42" stroke="#111" stroke-width="1.6" fill="none" stroke-dasharray="0.01 3.0" stroke-linecap="round"/>
<line x1="333.7" y1="460.9" x2="347.7" y2="460.9" stroke="#1b8aa0" stroke-width="1.9"/>
<circle cx="340.7" cy="460.9" r="1.8" fill="#1b8aa0"/>
<text x="354.6" y="463.6" font-size="7.6" font-weight="bold" text-anchor="start" fill="#1a1a1a" stroke="#1a1a1a" stroke-width="0.2">6.0</text>
<line x1="334.5" y1="475.5" x2="347.7" y2="475.5" stroke="#111" stroke-width="1.6" stroke-dasharray="0.01 3.4" stroke-linecap="round"/>
<text x="354.6" y="478.2" font-size="7.6" font-weight="bold" text-anchor="start" fill="#1a1a1a" stroke="#1a1a1a" stroke-width="0.2">5.5</text>
<line x1="333.7" y1="489.2" x2="347.7" y2="489.2" stroke="#a8155e" stroke-width="1.9"/>
<circle cx="340.7" cy="489.2" r="1.8" fill="#a8155e"/>
<text x="354.6" y="491.9" font-size="7.6" font-weight="bold" text-anchor="start" fill="#1a1a1a" stroke="#1a1a1a" stroke-width="0.2">5.0</text>
<rect x="243.5" y="4.9" width="113.5" height="75.8" fill="#fff" stroke="#5a5a5a" stroke-width="1"/>
<line x1="305.1" y1="22.3" x2="297.6" y2="35.29" stroke="#222" stroke-width="1.1" stroke-linecap="round"/>
<line x1="297.6" y1="35.29" x2="282.6" y2="35.29" stroke="#222" stroke-width="1.1" stroke-linecap="round"/>
<line x1="282.6" y1="35.29" x2="275.1" y2="22.3" stroke="#222" stroke-width="1.1" stroke-linecap="round"/>
<line x1="275.1" y1="22.3" x2="282.6" y2="9.31" stroke="#222" stroke-width="1.1" stroke-linecap="round"/>
<line x1="282.6" y1="9.31" x2="297.6" y2="9.31" stroke="#222" stroke-width="1.1" stroke-linecap="round"/>
<line x1="297.6" y1="9.31" x2="305.1" y2="22.3" stroke="#222" stroke-width="1.1" stroke-linecap="round"/>
<line x1="301.67" y1="23.44" x2="296.87" y2="31.75" stroke="#222" stroke-width="1" stroke-linecap="round"/>
<line x1="283.33" y1="31.75" x2="278.53" y2="23.44" stroke="#222" stroke-width="1" stroke-linecap="round"/>
<line x1="285.3" y1="11.71" x2="294.9" y2="11.71" stroke="#222" stroke-width="1" stroke-linecap="round"/>
<line x1="350.3" y1="22.3" x2="342.8" y2="35.29" stroke="#222" stroke-width="1.1" stroke-linecap="round"/>
<line x1="342.8" y1="35.29" x2="327.8" y2="35.29" stroke="#222" stroke-width="1.1" stroke-linecap="round"/>
<line x1="327.8" y1="35.29" x2="320.3" y2="22.3" stroke="#222" stroke-width="1.1" stroke-linecap="round"/>
<line x1="320.3" y1="22.3" x2="327.8" y2="9.31" stroke="#222" stroke-width="1.1" stroke-linecap="round"/>
<line x1="327.8" y1="9.31" x2="342.8" y2="9.31" stroke="#222" stroke-width="1.1" stroke-linecap="round"/>
<line x1="342.8" y1="9.31" x2="350.3" y2="22.3" stroke="#222" stroke-width="1.1" stroke-linecap="round"/>
<line x1="346.87" y1="23.44" x2="342.07" y2="31.75" stroke="#222" stroke-width="1" stroke-linecap="round"/>
<line x1="328.53" y1="31.75" x2="323.73" y2="23.44" stroke="#222" stroke-width="1" stroke-linecap="round"/>
<line x1="330.5" y1="11.71" x2="340.1" y2="11.71" stroke="#222" stroke-width="1" stroke-linecap="round"/>
<line x1="297.6" y1="35.29" x2="305.3" y2="48.5" stroke="#222" stroke-width="1.1" stroke-linecap="round"/>
<line x1="327.8" y1="35.29" x2="320.5" y2="48.5" stroke="#222" stroke-width="1.1" stroke-linecap="round"/>
<line x1="305.3" y1="48.5" x2="320.5" y2="48.5" stroke="#222" stroke-width="1.1" stroke-linecap="round"/>
<line x1="305.3" y1="48.5" x2="300.3" y2="56.8" stroke="#222" stroke-width="1.1" stroke-linecap="round"/>
<line x1="306.6" y1="51.4" x2="302.6" y2="58.1" stroke="#222" stroke-width="1.1" stroke-linecap="round"/>
<line x1="300.2" y1="66" x2="303" y2="70.8" stroke="#222" stroke-width="1.1" stroke-linecap="round"/>
<line x1="320.5" y1="48.5" x2="326.9" y2="56.8" stroke="#222" stroke-width="1.1" stroke-linecap="round"/>
<line x1="319" y1="50.6" x2="325" y2="57.8" stroke="#222" stroke-width="1.1" stroke-linecap="round"/>
<text x="297.9" y="64.4" font-size="7.9" text-anchor="middle" fill="#3558f0" stroke="#3558f0" stroke-width="0.3">N</text>
<text x="327.9" y="64.4" font-size="7.9" text-anchor="middle" fill="#f03a2a" stroke="#f03a2a" stroke-width="0.3">O</text>
<text x="308" y="77.5" font-size="7.9" text-anchor="middle" fill="#f03a2a" stroke="#f03a2a" stroke-width="0.3">OH</text>
<text x="261.2" y="67.3" font-size="10.6" text-anchor="start" fill="#222" stroke="#222" stroke-width="0.3">C11</text>
<rect x="223.1" y="184.1" width="133.4" height="81.3" fill="#fff" stroke="#5a5a5a" stroke-width="1"/>
<line x1="243.6" y1="189.2" x2="256.7" y2="196.1" stroke="#222" stroke-width="1.1" stroke-linecap="round"/>
<line x1="256.7" y1="196.1" x2="269.1" y2="189.5" stroke="#222" stroke-width="1.1" stroke-linecap="round"/>
<line x1="257.6" y1="192.9" x2="268" y2="187.3" stroke="#222" stroke-width="1.1" stroke-linecap="round"/>
<line x1="256.7" y1="196.1" x2="256.7" y2="210.8" stroke="#222" stroke-width="1.1" stroke-linecap="round"/>
<line x1="256.7" y1="210.8" x2="265.6" y2="216" stroke="#222" stroke-width="1.1" stroke-linecap="round"/>
<text x="269.9" y="221.4" font-size="7.9" text-anchor="middle" fill="#f03a2a" stroke="#f03a2a" stroke-width="0.3">O</text>
<line x1="269.8" y1="222.6" x2="269.8" y2="232.5" stroke="#222" stroke-width="1.1" stroke-linecap="round"/>
<line x1="283.52" y1="255.75" x2="270.1" y2="263.5" stroke="#222" stroke-width="1.1" stroke-linecap="round"/>
<line x1="270.1" y1="263.5" x2="256.68" y2="255.75" stroke="#222" stroke-width="1.1" stroke-linecap="round"/>
<line x1="256.68" y1="255.75" x2="256.68" y2="240.25" stroke="#222" stroke-width="1.1" stroke-linecap="round"/>
<line x1="256.68" y1="240.25" x2="270.1" y2="232.5" stroke="#222" stroke-width="1.1" stroke-linecap="round"/>
<line x1="270.1" y1="232.5" x2="283.52" y2="240.25" stroke="#222" stroke-width="1.1" stroke-linecap="round"/>
<line x1="283.52" y1="240.25" x2="283.52" y2="255.75" stroke="#222" stroke-width="1.1" stroke-linecap="round"/>
<line x1="279.91" y1="255.07" x2="271.32" y2="260.03" stroke="#222" stroke-width="1" stroke-linecap="round"/>
<line x1="259.08" y1="252.96" x2="259.08" y2="243.04" stroke="#222" stroke-width="1" stroke-linecap="round"/>
<line x1="271.32" y1="235.97" x2="279.91" y2="240.93" stroke="#222" stroke-width="1" stroke-linecap="round"/>
<line x1="283.52" y1="240.25" x2="291.4" y2="235.8" stroke="#222" stroke-width="1.1" stroke-linecap="round"/>
<text x="296.1" y="236.2" font-size="7.9" text-anchor="middle" fill="#3558f0" stroke="#3558f0" stroke-width="0.3">N</text>
<text x="296.4" y="228.4" font-size="7.9" text-anchor="middle" fill="#3558f0" stroke="#3558f0" stroke-width="0.3">H</text>
<line x1="300" y1="235.2" x2="309.4" y2="239.6" stroke="#222" stroke-width="1.1" stroke-linecap="round"/>
<line x1="308.2" y1="240.4" x2="308.2" y2="250.6" stroke="#222" stroke-width="1.1" stroke-linecap="round"/>
<line x1="310.7" y1="240.6" x2="310.7" y2="250.6" stroke="#222" stroke-width="1.1" stroke-linecap="round"/>
<text x="309.2" y="258.4" font-size="7.9" text-anchor="middle" fill="#f03a2a" stroke="#f03a2a" stroke-width="0.3">O</text>
<line x1="309.4" y1="239.6" x2="321.9" y2="232.8" stroke="#222" stroke-width="1.1" stroke-linecap="round"/>
<line x1="321.9" y1="232.8" x2="322.9" y2="222.4" stroke="#222" stroke-width="1.1" stroke-linecap="round"/>
<text x="323.3" y="220.9" font-size="7.9" text-anchor="middle" fill="#3558f0" stroke="#3558f0" stroke-width="0.3">N</text>
<line x1="326.6" y1="216.6" x2="337.8" y2="213.5" stroke="#222" stroke-width="1.1" stroke-linecap="round"/>
<line x1="327.8" y1="219.4" x2="337" y2="216.7" stroke="#222" stroke-width="1.1" stroke-linecap="round"/>
<line x1="337.8" y1="213.5" x2="342.9" y2="222.2" stroke="#222" stroke-width="1.1" stroke-linecap="round"/>
<text x="342.6" y="230" font-size="7.9" text-anchor="start" fill="#3558f0" stroke="#3558f0" stroke-width="0.3">NH</text>
<line x1="342.3" y1="231.1" x2="336.1" y2="237.9" stroke="#222" stroke-width="1.1" stroke-linecap="round"/>
<line x1="336.1" y1="237.9" x2="321.9" y2="232.8" stroke="#222" stroke-width="1.1" stroke-linecap="round"/>
<line x1="334.4" y1="235.3" x2="324.6" y2="231.6" stroke="#222" stroke-width="1.1" stroke-linecap="round"/>
<line x1="336.1" y1="237.9" x2="339.5" y2="252.7" stroke="#222" stroke-width="1.1" stroke-linecap="round"/>
<text x="226.2" y="262.6" font-size="10.6" text-anchor="start" fill="#222" stroke="#222" stroke-width="0.3">C2.2</text>
<text x="364.2" y="10.1" font-size="13.2" font-weight="bold" text-anchor="start" fill="#2b2b2b" stroke="#2b2b2b" stroke-width="0.2">B</text>
<text x="371.6" y="28.8" font-size="8" font-weight="bold" text-anchor="start" fill="#1a1a1a" stroke="#1a1a1a" stroke-width="0.2">pH</text>
<text x="387.8" y="28.8" font-size="8" font-weight="bold" text-anchor="start" fill="#1a1a1a" stroke="#1a1a1a" stroke-width="0.2">7.4</text>
<text x="432.6" y="28.5" font-size="8" font-weight="bold" text-anchor="start" fill="#1a1a1a" stroke="#1a1a1a" stroke-width="0.2">5.5</text>
<rect x="420.5" y="36.2" width="36.5" height="122.5" fill="#e3e7f1"/>
<rect x="384.3" y="30.4" width="17.7" height="5.4" fill="#b3b3b3"/>
<rect x="402" y="30.4" width="72.9" height="5.4" fill="#4d4d4d"/>
<rect x="474.9" y="30.4" width="17.5" height="5.4" fill="#b3b3b3"/>
<line x1="384.3" y1="42.4" x2="474.9" y2="42.4" stroke="#9a9a9a" stroke-width="0.8" stroke-dasharray="1 1.4"/>
<path d="M384.3 44.4 C385.92 44.42 390.85 44.47 394 44.5 C397.15 44.53 401.48 44.1 403.2 44.6 C404.92 45.1 403.93 44.6 404.3 47.5 C404.67 50.4 405.05 56.58 405.4 62 C405.75 67.42 406.08 73.67 406.4 80 C406.72 86.33 406.97 93.83 407.3 100 C407.63 106.17 408.02 112.33 408.4 117 C408.78 121.67 408.78 124.68 409.6 128 C410.42 131.32 412.47 134.28 413.3 136.9 C414.13 139.52 414.2 142.2 414.6 143.7 C415 145.2 415.32 145.93 415.7 145.9 C416.08 145.87 416.43 145.17 416.9 143.5 C417.37 141.83 417.93 139.5 418.5 135.9 C419.07 132.3 419.47 125.88 420.3 121.9 C421.13 117.92 422.5 115.23 423.5 112 C424.5 108.77 425.18 106.47 426.3 102.5 C427.42 98.53 428.47 92.97 430.2 88.2 C431.93 83.43 433.88 77.92 436.7 73.9 C439.52 69.88 443.85 66.55 447.1 64.1 C450.35 61.65 454.35 60.01 456.2 59.2 C458.05 58.39 457.47 59.2 458.2 59.22 C458.93 59.23 459.77 59.26 460.6 59.28 C461.43 59.31 462.27 59.47 463.2 59.36 C464.13 59.25 465.07 58.61 466.2 58.6 C467.33 58.59 468.65 59.17 470 59.3 C471.35 59.43 473.58 59.38 474.3 59.4" stroke="#a3a3a3" stroke-width="1.3" fill="none" stroke-linejoin="round" stroke-linecap="round"/>
<path d="M384.3 44.4 C385.92 44.42 390.85 44.47 394 44.5 C397.15 44.53 401.48 44.1 403.2 44.6 C404.92 45.1 403.93 44.6 404.3 47.5 C404.67 50.4 405.05 56.58 405.4 62 C405.75 67.42 406.08 73.67 406.4 80 C406.72 86.33 406.97 93.83 407.3 100 C407.63 106.17 408.02 112.33 408.4 117 C408.78 121.67 408.88 124.12 409.6 128 C410.32 131.88 411.97 137.12 412.7 140.3 C413.43 143.48 413.6 145.6 414 147.1 C414.4 148.6 414.72 149.33 415.1 149.3 C415.48 149.27 415.83 148.57 416.3 146.9 C416.77 145.23 417.33 142.9 417.9 139.3 C418.47 135.7 418.85 131.78 419.7 125.3 C420.55 118.82 422.03 106.28 423 100.4 C423.97 94.52 424.58 92.98 425.5 90 C426.42 87.02 427.08 85.25 428.5 82.5 C429.92 79.75 432.13 76.12 434 73.5 C435.87 70.88 437.37 68.92 439.7 66.8 C442.03 64.68 445.25 62.5 448 60.8 C450.75 59.1 454.5 57.25 456.2 56.6 C457.9 55.95 457.47 56.64 458.2 56.92 C458.93 57.2 459.77 57.8 460.6 58.28 C461.43 58.76 462.27 59.55 463.2 59.8 C464.13 60.05 465.07 59.68 466.2 59.8 C467.33 59.92 468.65 60.37 470 60.5 C471.35 60.63 473.58 60.58 474.3 60.6" stroke="#8cc8ec" stroke-width="1.3" fill="none" stroke-linejoin="round" stroke-linecap="round"/>
<path d="M384.3 44.4 C385.92 44.42 390.85 44.47 394 44.5 C397.15 44.53 401.48 44.1 403.2 44.6 C404.92 45.1 403.93 44.6 404.3 47.5 C404.67 50.4 405.05 56.58 405.4 62 C405.75 67.42 406.08 73.67 406.4 80 C406.72 86.33 406.97 93.83 407.3 100 C407.63 106.17 408.02 112 408.4 117 C408.78 122 408.97 125.57 409.6 130 C410.23 134.43 411.55 140.2 412.2 143.6 C412.85 147 413.1 148.9 413.5 150.4 C413.9 151.9 414.22 152.63 414.6 152.6 C414.98 152.57 415.33 151.87 415.8 150.2 C416.27 148.53 416.83 146.2 417.4 142.6 C417.97 139 418.47 134.37 419.2 128.6 C419.93 122.83 421.08 114.43 421.8 108 C422.52 101.57 422.97 94.83 423.5 90 C424.03 85.17 424.1 82.77 425 79 C425.9 75.23 427.38 70.65 428.9 67.4 C430.42 64.15 431.5 61.9 434.1 59.5 C436.7 57.1 440.82 54.73 444.5 53 C448.18 51.27 453.92 49.52 456.2 49.1 C458.48 48.68 457.47 49.27 458.2 50.45 C458.93 51.63 459.77 54.17 460.6 56.2 C461.43 58.23 462.27 61.12 463.2 62.62 C464.13 64.12 465.07 64.65 466.2 65.2 C467.33 65.75 468.65 65.77 470 65.9 C471.35 66.03 473.58 65.98 474.3 66" stroke="#3a7ee0" stroke-width="1.3" fill="none" stroke-linejoin="round" stroke-linecap="round"/>
<path d="M384.3 44.4 C385.92 44.42 390.85 44.47 394 44.5 C397.15 44.53 401.48 44.1 403.2 44.6 C404.92 45.1 403.93 44.6 404.3 47.5 C404.67 50.4 405.05 56.58 405.4 62 C405.75 67.42 406.08 73.67 406.4 80 C406.72 86.33 406.97 93.83 407.3 100 C407.63 106.17 408.02 112 408.4 117 C408.78 122 409.07 125.1 409.6 130 C410.13 134.9 411.05 142.53 411.6 146.4 C412.15 150.27 412.5 151.7 412.9 153.2 C413.3 154.7 413.62 155.43 414 155.4 C414.38 155.37 414.73 154.67 415.2 153 C415.67 151.33 416.23 149 416.8 145.4 C417.37 141.8 417.9 137.97 418.6 131.4 C419.3 124.83 420.18 116.23 421 106 C421.82 95.77 422.62 78.92 423.5 70 C424.38 61.08 425.22 56 426.3 52.5 C427.38 49 428.38 49.95 430 49 C431.62 48.05 433.33 47.37 436 46.8 C438.67 46.23 442.63 45.92 446 45.6 C449.37 45.28 454.17 44.67 456.2 44.9 C458.23 45.13 457.47 45.16 458.2 46.99 C458.93 48.81 459.77 52.73 460.6 55.86 C461.43 58.99 462.27 63.39 463.2 65.78 C464.13 68.17 465.07 69.35 466.2 70.2 C467.33 71.05 468.65 70.77 470 70.9 C471.35 71.03 473.58 70.98 474.3 71" stroke="#3d5d9e" stroke-width="1.3" fill="none" stroke-linejoin="round" stroke-linecap="round"/>
<path d="M384.3 44.4 C385.92 44.42 390.85 44.47 394 44.5 C397.15 44.53 401.48 44.1 403.2 44.6 C404.92 45.1 403.93 44.6 404.3 47.5 C404.67 50.4 405.05 56.58 405.4 62 C405.75 67.42 406.08 73.67 406.4 80 C406.72 86.33 406.97 93.83 407.3 100 C407.63 106.17 408.02 112 408.4 117 C408.78 122 409.17 124.72 409.6 130 C410.03 135.28 410.55 144.45 411 148.7 C411.45 152.95 411.9 154 412.3 155.5 C412.7 157 413.02 157.73 413.4 157.7 C413.78 157.67 414.13 156.97 414.6 155.3 C415.07 153.63 415.63 151.3 416.2 147.7 C416.77 144.1 417.25 140.48 418 133.7 C418.75 126.92 419.87 118.15 420.7 107 C421.53 95.85 422.25 75.73 423 66.8 C423.75 57.87 424.28 56.57 425.2 53.4 C426.12 50.23 426.82 49.22 428.5 47.8 C430.18 46.38 432.38 45.5 435.3 44.9 C438.22 44.3 442.52 44.35 446 44.2 C449.48 44.05 454.17 43.64 456.2 44 C458.23 44.36 457.47 44.3 458.2 46.37 C458.93 48.44 459.77 52.88 460.6 56.43 C461.43 59.98 462.27 64.95 463.2 67.68 C464.13 70.41 465.07 71.83 466.2 72.8 C467.33 73.77 468.65 73.37 470 73.5 C471.35 73.63 473.58 73.58 474.3 73.6" stroke="#1b2077" stroke-width="1.3" fill="none" stroke-linejoin="round" stroke-linecap="round"/>
<path d="M474.3 73.6 L475 73.6 L475.2 40.4 L476.6 41.8 L479 42.8 L485 43.3 L492.4 43.5" stroke="#1b2077" stroke-width="1.3" fill="none"/>
<path d="M382.9 86.5 L382.9 121.4 L401.4 121.4" stroke="#444" stroke-width="1.15" fill="none"/>
<text x="379.7" y="106.1" font-size="8.4" font-weight="bold" text-anchor="middle" fill="#1a1a1a" stroke="#1a1a1a" stroke-width="0.2" transform="rotate(-90 379.7 106.1)">300 pA</text>
<text x="386.1" y="129.3" font-size="7.9" font-weight="bold" text-anchor="start" fill="#1a1a1a" stroke="#1a1a1a" stroke-width="0.2">8 s</text>
<text x="432.8" y="156.3" font-size="8" font-weight="bold" text-anchor="start" fill="#1a1a1a" stroke="#1a1a1a" stroke-width="0.2">C11</text>
<line x1="460.1" y1="116" x2="467" y2="116" stroke="#1b2077" stroke-width="1.9"/>
<text x="470.5" y="118.4" font-size="7" font-weight="bold" text-anchor="start" fill="#1a1a1a" stroke="#1a1a1a" stroke-width="0.2">300 µM</text>
<line x1="460.1" y1="124" x2="467" y2="124" stroke="#3d5d9e" stroke-width="1.9"/>
<text x="470.5" y="126.4" font-size="7" font-weight="bold" text-anchor="start" fill="#1a1a1a" stroke="#1a1a1a" stroke-width="0.2">100 µM</text>
<line x1="460.1" y1="132" x2="467" y2="132" stroke="#3a7ee0" stroke-width="1.9"/>
<text x="470.5" y="134.4" font-size="7" font-weight="bold" text-anchor="start" fill="#1a1a1a" stroke="#1a1a1a" stroke-width="0.2">30 µM</text>
<line x1="460.1" y1="139.8" x2="467" y2="139.8" stroke="#8cc8ec" stroke-width="1.9"/>
<text x="470.5" y="142.2" font-size="7" font-weight="bold" text-anchor="start" fill="#1a1a1a" stroke="#1a1a1a" stroke-width="0.2">10 µM</text>
<line x1="460.1" y1="147.6" x2="467" y2="147.6" stroke="#a3a3a3" stroke-width="1.9"/>
<text x="470.5" y="150" font-size="7" font-weight="bold" text-anchor="start" fill="#1a1a1a" stroke="#1a1a1a" stroke-width="0.2">3 µM</text>
<text x="364" y="191.8" font-size="13.2" font-weight="bold" text-anchor="start" fill="#2b2b2b" stroke="#2b2b2b" stroke-width="0.2">E</text>
<text x="368.6" y="214" font-size="8" font-weight="bold" text-anchor="start" fill="#1a1a1a" stroke="#1a1a1a" stroke-width="0.2">pH</text>
<text x="385" y="214" font-size="8" font-weight="bold" text-anchor="start" fill="#1a1a1a" stroke="#1a1a1a" stroke-width="0.2">7.4</text>
<text x="432.6" y="214.2" font-size="8" font-weight="bold" text-anchor="start" fill="#1a1a1a" stroke="#1a1a1a" stroke-width="0.2">5.5</text>
<rect x="417.5" y="221.6" width="38.5" height="118.5" fill="#e3e7f1"/>
<rect x="379.8" y="216.3" width="20.2" height="5.2" fill="#b3b3b3"/>
<rect x="400" y="216.3" width="73" height="5.2" fill="#4d4d4d"/>
<rect x="473" y="216.3" width="21.6" height="5.2" fill="#b3b3b3"/>
<line x1="379.4" y1="228" x2="476" y2="228" stroke="#9a9a9a" stroke-width="0.8" stroke-dasharray="1 1.4"/>
<path d="M379.4 230.6 C381 230.6 385.7 230.57 389 230.6 C392.3 230.63 397.22 230.23 399.2 230.8 C401.18 231.37 400.33 231.63 400.9 234 C401.47 236.37 401.92 240.67 402.6 245 C403.28 249.33 404.05 254.17 405 260 C405.95 265.83 407.37 274.92 408.3 280 C409.23 285.08 409.85 287.37 410.6 290.5 C411.35 293.63 412.17 296.78 412.8 298.8 C413.43 300.82 413.9 301.73 414.4 302.6 C414.9 303.47 415.27 303.9 415.8 304 C416.33 304.1 417.13 303.63 417.6 303.2 C418.07 302.77 417.97 305.98 418.6 301.4 C419.23 296.82 420.5 282.68 421.4 275.7 C422.3 268.72 422.65 263.55 424 259.5 C425.35 255.45 426.78 253.43 429.5 251.4 C432.22 249.37 435.8 248.43 440.3 247.3 C444.8 246.17 453.47 244.48 456.5 244.6 C459.53 244.72 457.83 246.43 458.5 248 C459.17 249.57 459.48 251.18 460.5 254 C461.52 256.82 463.25 261.97 464.6 264.9 C465.95 267.83 467.25 270.93 468.6 271.6 C469.95 272.27 471.57 269.8 472.7 268.9 C473.83 268 474.95 266.65 475.4 266.2" stroke="#a3a3a3" stroke-width="1.3" fill="none" stroke-linejoin="round" stroke-linecap="round"/>
<path d="M379.4 230.6 C381 230.6 385.7 230.57 389 230.6 C392.3 230.63 397.27 229.9 399.2 230.8 C401.13 231.7 400.1 232.47 400.6 236 C401.1 239.53 401.63 246 402.2 252 C402.77 258 403.3 265.63 404 272 C404.7 278.37 405.65 285.53 406.4 290.2 C407.15 294.87 407.82 297.1 408.5 300 C409.18 302.9 409.72 305.52 410.5 307.6 C411.28 309.68 412.35 312.35 413.2 312.5 C414.05 312.65 414.7 310.38 415.6 308.5 C416.5 306.62 417.77 305.95 418.6 301.2 C419.43 296.45 419.92 287.87 420.6 280 C421.28 272.13 421.67 260.58 422.7 254 C423.73 247.42 424.32 243.2 426.8 240.5 C429.28 237.8 432.65 238.47 437.6 237.8 C442.55 237.13 453.02 236.38 456.5 236.5 C459.98 236.62 457.78 236.92 458.5 238.5 C459.22 240.08 459.75 241.42 460.8 246 C461.85 250.58 463.47 260.5 464.8 266 C466.13 271.5 467.48 276.17 468.8 279 C470.12 281.83 471.6 282.27 472.7 283 C473.8 283.73 474.95 283.33 475.4 283.4" stroke="#8cc8ec" stroke-width="1.3" fill="none" stroke-linejoin="round" stroke-linecap="round"/>
<path d="M379.4 230.6 C381 230.6 385.7 230.57 389 230.6 C392.3 230.63 397.3 229.82 399.2 230.8 C401.1 231.78 399.97 232.63 400.4 236.5 C400.83 240.37 401.35 247.42 401.8 254 C402.25 260.58 402.65 269 403.1 276 C403.55 283 403.88 290.25 404.5 296 C405.12 301.75 405.98 306.75 406.8 310.5 C407.62 314.25 408.62 316.77 409.4 318.5 C410.18 320.23 410.8 320.98 411.5 320.9 C412.2 320.82 412.83 319.9 413.6 318 C414.37 316.1 415.27 312.33 416.1 309.5 C416.93 306.67 417.92 306.92 418.6 301 C419.28 295.08 419.67 284.5 420.2 274 C420.73 263.5 421.07 244.75 421.8 238 C422.53 231.25 421.57 234.4 424.6 233.5 C427.63 232.6 434.68 232.82 440 232.6 C445.32 232.38 453.38 231.83 456.5 232.2 C459.62 232.57 457.97 233 458.7 234.8 C459.43 236.6 459.85 237.8 460.9 243 C461.95 248.2 463.65 259.92 465 266 C466.35 272.08 467.72 276.62 469 279.5 C470.28 282.38 471.63 282.58 472.7 283.3 C473.77 284.02 474.95 283.72 475.4 283.8" stroke="#3a7ee0" stroke-width="1.3" fill="none" stroke-linejoin="round" stroke-linecap="round"/>
<path d="M379.4 230.6 C381 230.6 385.7 230.57 389 230.6 C392.3 230.63 397.32 229.73 399.2 230.8 C401.08 231.87 399.9 232.8 400.3 237 C400.7 241.2 401.2 249.17 401.6 256 C402 262.83 402.32 271 402.7 278 C403.08 285 403.35 292.08 403.9 298 C404.45 303.92 405.18 309.42 406 313.5 C406.82 317.58 407.97 320.58 408.8 322.5 C409.63 324.42 410.25 325.17 411 325 C411.75 324.83 412.47 323.83 413.3 321.5 C414.13 319.17 415.12 314.42 416 311 C416.88 307.58 417.92 307.5 418.6 301 C419.28 294.5 419.6 282.75 420.1 272 C420.6 261.25 420.9 243.07 421.6 236.5 C422.3 229.93 421.23 233.38 424.3 232.6 C427.37 231.82 434.63 231.98 440 231.8 C445.37 231.62 453.4 231.13 456.5 231.5 C459.6 231.87 457.9 232.33 458.6 234 C459.3 235.67 459.67 236.5 460.7 241.5 C461.73 246.5 463.45 258 464.8 264 C466.15 270 467.48 274.53 468.8 277.5 C470.12 280.47 471.6 281 472.7 281.8 C473.8 282.6 474.95 282.22 475.4 282.3" stroke="#3d5d9e" stroke-width="1.3" fill="none" stroke-linejoin="round" stroke-linecap="round"/>
<path d="M379.4 230.6 C381 230.6 385.7 230.57 389 230.6 C392.3 230.63 397.33 229.57 399.2 230.8 C401.07 232.03 399.83 233.47 400.2 238 C400.57 242.53 401.05 251 401.4 258 C401.75 265 401.98 272.92 402.3 280 C402.62 287.08 402.8 294.53 403.3 300.5 C403.8 306.47 404.45 311.72 405.3 315.8 C406.15 319.88 407.45 323.13 408.4 325 C409.35 326.87 410.15 327.33 411 327 C411.85 326.67 412.67 325.5 413.5 323 C414.33 320.5 415.15 315.67 416 312 C416.85 308.33 417.93 308 418.6 301 C419.27 294 419.53 281 420 270 C420.47 259 420.73 241.35 421.4 235 C422.07 228.65 420.9 232.53 424 231.9 C427.1 231.27 434.58 231.35 440 231.2 C445.42 231.05 453.42 230.62 456.5 231 C459.58 231.38 457.83 231.92 458.5 233.5 C459.17 235.08 459.48 235.72 460.5 240.5 C461.52 245.28 463.25 256.33 464.6 262.2 C465.95 268.07 467.25 272.68 468.6 275.7 C469.95 278.72 471.57 279.42 472.7 280.3 C473.83 281.18 474.95 280.88 475.4 281" stroke="#1b2077" stroke-width="1.3" fill="none" stroke-linejoin="round" stroke-linecap="round"/>
<path d="M475.4 281 L476 281 L476.2 229.2 L478 230.3 L485 230.7 L494.4 230.5" stroke="#1b2077" stroke-width="1.3" fill="none"/>
<path d="M378.5 280.9 L378.5 311.7 L397.9 311.7" stroke="#444" stroke-width="1.15" fill="none"/>
<text x="375" y="300.2" font-size="8.4" font-weight="bold" text-anchor="middle" fill="#1a1a1a" stroke="#1a1a1a" stroke-width="0.2" transform="rotate(-90 375 300.2)">100 pA</text>
<text x="381" y="322" font-size="7.9" font-weight="bold" text-anchor="start" fill="#1a1a1a" stroke="#1a1a1a" stroke-width="0.2">8 s</text>
<text x="429.2" y="337.9" font-size="8" font-weight="bold" text-anchor="start" fill="#1a1a1a" stroke="#1a1a1a" stroke-width="0.2">C2.2</text>
<line x1="461.6" y1="306.6" x2="468.3" y2="306.6" stroke="#1b2077" stroke-width="1.9"/>
<text x="470.6" y="309" font-size="7" font-weight="bold" text-anchor="start" fill="#1a1a1a" stroke="#1a1a1a" stroke-width="0.2">300 µM</text>
<line x1="461.6" y1="315.1" x2="468.3" y2="315.1" stroke="#3d5d9e" stroke-width="1.9"/>
<text x="470.6" y="317.5" font-size="7" font-weight="bold" text-anchor="start" fill="#1a1a1a" stroke="#1a1a1a" stroke-width="0.2">100 µM</text>
<line x1="461.6" y1="323.3" x2="468.3" y2="323.3" stroke="#3a7ee0" stroke-width="1.9"/>
<text x="470.6" y="325.7" font-size="7" font-weight="bold" text-anchor="start" fill="#1a1a1a" stroke="#1a1a1a" stroke-width="0.2">30 µM</text>
<line x1="461.6" y1="331.8" x2="468.3" y2="331.8" stroke="#8cc8ec" stroke-width="1.9"/>
<text x="470.6" y="334.2" font-size="7" font-weight="bold" text-anchor="start" fill="#1a1a1a" stroke="#1a1a1a" stroke-width="0.2">10 µM</text>
<line x1="461.6" y1="340.1" x2="468.3" y2="340.1" stroke="#a3a3a3" stroke-width="1.9"/>
<text x="470.6" y="342.5" font-size="7" font-weight="bold" text-anchor="start" fill="#1a1a1a" stroke="#1a1a1a" stroke-width="0.2">3 µM</text>
</svg>
</body></html>
